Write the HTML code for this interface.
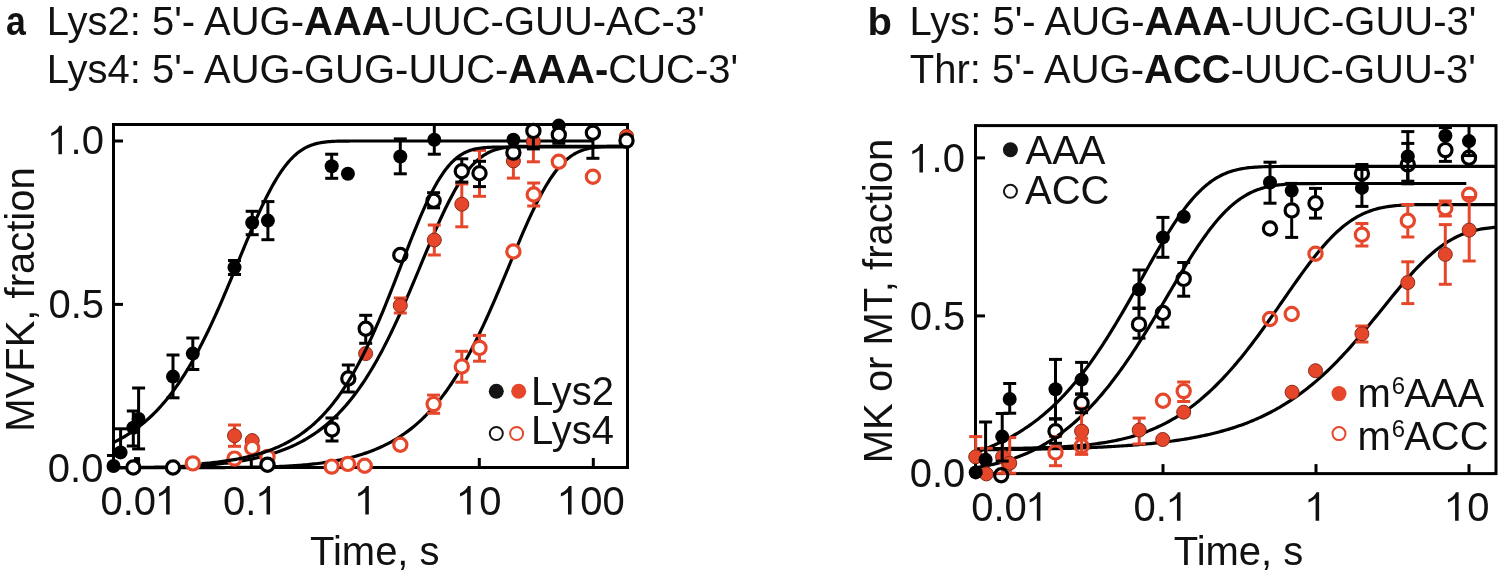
<!DOCTYPE html>
<html><head><meta charset="utf-8"><style>
html,body{margin:0;padding:0;background:#fff;}
body{width:1500px;height:578px;overflow:hidden;}
svg{display:block;font-family:"Liberation Sans",sans-serif;}
svg{will-change:transform;}
</style></head><body>
<svg width="1500" height="578" viewBox="0 0 1500 578">
<rect width="1500" height="578" fill="#fff"/>
<text x="5.9" y="34.6" font-size="40" text-anchor="start" font-weight="bold" fill="#111" transform="translate(6.2,0) scale(0.89,1) translate(-6.2,0) translate(5.9,34.6) scale(1,1.0) translate(-5.9,-34.6)" >a</text>
<text x="46.8" y="34.6" font-size="40" text-anchor="start" font-weight="normal" fill="#111" transform="translate(46.8,34.6) scale(1,1.035) translate(-46.8,-34.6)" >Lys2: 5'- AUG-<tspan font-weight='bold'>AAA</tspan>-UUC-GUU-AC-3'</text>
<text x="46.8" y="83.3" font-size="40" text-anchor="start" font-weight="normal" fill="#111" transform="translate(46.8,83.3) scale(1,1.035) translate(-46.8,-83.3)" >Lys4: 5'- AUG-GUG-UUC-<tspan font-weight='bold'>AAA-</tspan>CUC-3'</text>
<text x="867.5" y="34.6" font-size="40" text-anchor="start" font-weight="bold" fill="#111" transform="translate(867.5,34.6) scale(1,0.96) translate(-867.5,-34.6)" >b</text>
<text x="909.5" y="34.6" font-size="40" text-anchor="start" font-weight="normal" fill="#111" transform="translate(909.5,34.6) scale(1,1.035) translate(-909.5,-34.6)" >Lys: 5'- AUG-<tspan font-weight='bold'>AAA</tspan>-UUC-GUU-3'</text>
<text x="909.8" y="83.3" font-size="40" text-anchor="start" font-weight="normal" fill="#111" transform="translate(909.8,83.3) scale(1,1.035) translate(-909.8,-83.3)" >Thr: 5'- AUG-<tspan font-weight='bold'>ACC</tspan>-UUC-GUU-3'</text>
<rect x="113.5" y="124.5" width="514.0" height="343.0" fill="none" stroke="#000" stroke-width="3"/>
<line x1="113.50" y1="141.00" x2="123.00" y2="141.00" stroke="#000" stroke-width="3"/>
<line x1="113.50" y1="304.40" x2="123.00" y2="304.40" stroke="#000" stroke-width="3"/>
<line x1="137.30" y1="467.50" x2="137.30" y2="458.00" stroke="#000" stroke-width="3"/>
<line x1="251.30" y1="467.50" x2="251.30" y2="458.00" stroke="#000" stroke-width="3"/>
<line x1="365.30" y1="467.50" x2="365.30" y2="458.00" stroke="#000" stroke-width="3"/>
<line x1="479.30" y1="467.50" x2="479.30" y2="458.00" stroke="#000" stroke-width="3"/>
<line x1="593.30" y1="467.50" x2="593.30" y2="458.00" stroke="#000" stroke-width="3"/>
<path d="M113.50,442.52 L115.35,441.60 L117.21,440.65 L119.06,439.66 L120.91,438.64 L122.76,437.59 L124.62,436.50 L126.47,435.37 L128.32,434.20 L130.17,432.99 L132.03,431.75 L133.88,430.46 L135.73,429.12 L137.58,427.75 L139.44,426.32 L141.29,424.86 L143.14,423.34 L144.99,421.77 L146.85,420.15 L148.70,418.49 L150.55,416.76 L152.40,414.99 L154.26,413.15 L156.11,411.27 L157.96,409.32 L159.81,407.31 L161.67,405.25 L163.52,403.12 L165.37,400.92 L167.22,398.67 L169.08,396.35 L170.93,393.96 L172.78,391.50 L174.63,388.98 L176.49,386.39 L178.34,383.73 L180.19,380.99 L182.04,378.19 L183.90,375.31 L185.75,372.36 L187.60,369.33 L189.45,366.24 L191.31,363.06 L193.16,359.82 L195.01,356.50 L196.86,353.11 L198.72,349.65 L200.57,346.11 L202.42,342.50 L204.27,338.82 L206.13,335.07 L207.98,331.26 L209.83,327.38 L211.68,323.43 L213.54,319.42 L215.39,315.36 L217.24,311.23 L219.09,307.05 L220.95,302.82 L222.80,298.55 L224.65,294.23 L226.50,289.87 L228.36,285.47 L230.21,281.05 L232.06,276.59 L233.91,272.12 L235.77,267.64 L237.62,263.14 L239.47,258.65 L241.32,254.15 L243.18,249.67 L245.03,245.21 L246.88,240.76 L248.73,236.35 L250.59,231.98 L252.44,227.65 L254.29,223.37 L256.14,219.16 L258.00,215.01 L259.85,210.94 L261.70,206.95 L263.55,203.04 L265.41,199.24 L267.26,195.53 L269.11,191.93 L270.96,188.45 L272.82,185.08 L274.67,181.84 L276.52,178.73 L278.37,175.75 L280.23,172.90 L282.08,170.19 L283.93,167.63 L285.78,165.20 L287.64,162.91 L289.49,160.77 L291.34,158.76 L293.19,156.90 L295.05,155.17 L296.90,153.57 L298.75,152.10 L300.60,150.76 L302.46,149.54 L304.31,148.43 L306.16,147.43 L308.01,146.54 L309.87,145.74 L311.72,145.03 L313.57,144.41 L315.42,143.87 L317.28,143.39 L319.13,142.98 L320.98,142.63 L322.83,142.33 L324.69,142.08 L326.54,141.87 L328.39,141.69 L330.24,141.55 L332.10,141.43 L333.95,141.33 L335.80,141.26 L337.65,141.20 L339.51,141.15 L341.36,141.11 L343.21,141.08 L345.06,141.06 L346.92,141.04 L348.77,141.03 L350.62,141.02 L352.47,141.01 L354.33,141.01 L356.18,141.01 L358.03,141.00 L359.88,141.00 L361.74,141.00 L363.59,141.00 L365.44,141.00 L367.29,141.00 L369.15,141.00 L371.00,141.00 L372.85,141.00 L374.70,141.00 L376.56,141.00 L378.41,141.00 L380.26,141.00 L382.11,141.00 L383.97,141.00 L385.82,141.00 L387.67,141.00 L389.52,141.00 L391.38,141.00 L393.23,141.00 L395.08,141.00 L396.93,141.00 L398.79,141.00 L400.64,141.00 L402.49,141.00 L404.34,141.00 L406.20,141.00 L408.05,141.00 L409.90,141.00 L411.75,141.00 L413.61,141.00 L415.46,141.00 L417.31,141.00 L419.16,141.00 L421.02,141.00 L422.87,141.00 L424.72,141.00 L426.57,141.00 L428.43,141.00 L430.28,141.00 L432.13,141.00 L433.98,141.00 L435.84,141.00 L437.69,141.00 L439.54,141.00 L441.39,141.00 L443.25,141.00 L445.10,141.00 L446.95,141.00 L448.80,141.00 L450.66,141.00 L452.51,141.00 L454.36,141.00 L456.21,141.00 L458.07,141.00 L459.92,141.00 L461.77,141.00 L463.62,141.00 L465.48,141.00 L467.33,141.00 L469.18,141.00 L471.03,141.00 L472.89,141.00 L474.74,141.00 L476.59,141.00 L478.44,141.00 L480.30,141.00 L482.15,141.00 L484.00,141.00 L485.85,141.00 L487.71,141.00 L489.56,141.00 L491.41,141.00 L493.26,141.00 L495.12,141.00 L496.97,141.00 L498.82,141.00 L500.67,141.00 L502.53,141.00 L504.38,141.00 L506.23,141.00 L508.08,141.00 L509.94,141.00 L511.79,141.00 L513.64,141.00 L515.49,141.00 L517.35,141.00 L519.20,141.00 L521.05,141.00 L522.90,141.00 L524.76,141.00 L526.61,141.00 L528.46,141.00 L530.31,141.00 L532.17,141.00 L534.02,141.00 L535.87,141.00 L537.72,141.00 L539.58,141.00 L541.43,141.00 L543.28,141.00 L545.13,141.00 L546.99,141.00 L548.84,141.00 L550.69,141.00 L552.54,141.00 L554.40,141.00 L556.25,141.00 L558.10,141.00 L559.95,141.00 L561.81,141.00 L563.66,141.00 L565.51,141.00 L567.36,141.00 L569.22,141.00 L571.07,141.00 L572.92,141.00 L574.77,141.00 L576.63,141.00 L578.48,141.00 L580.33,141.00 L582.18,141.00 L584.04,141.00 L585.89,141.00 L587.74,141.00 L589.59,141.00 L591.45,141.00 L593.30,141.00" fill="none" stroke="#000" stroke-width="3.2" stroke-linejoin="round"/>
<path d="M113.50,467.59 L115.48,467.58 L117.47,467.57 L119.45,467.56 L121.44,467.55 L123.42,467.54 L125.41,467.53 L127.39,467.52 L129.38,467.50 L131.36,467.49 L133.35,467.47 L135.33,467.45 L137.31,467.44 L139.30,467.42 L141.28,467.39 L143.27,467.37 L145.25,467.35 L147.24,467.32 L149.22,467.29 L151.21,467.26 L153.19,467.23 L155.18,467.20 L157.16,467.16 L159.14,467.12 L161.13,467.08 L163.11,467.04 L165.10,466.99 L167.08,466.94 L169.07,466.89 L171.05,466.83 L173.04,466.77 L175.02,466.71 L177.01,466.64 L178.99,466.57 L180.97,466.49 L182.96,466.41 L184.94,466.33 L186.93,466.24 L188.91,466.14 L190.90,466.04 L192.88,465.94 L194.87,465.82 L196.85,465.71 L198.84,465.58 L200.82,465.45 L202.81,465.31 L204.79,465.17 L206.77,465.02 L208.76,464.86 L210.74,464.69 L212.73,464.52 L214.71,464.33 L216.70,464.14 L218.68,463.94 L220.67,463.73 L222.65,463.51 L224.64,463.28 L226.62,463.04 L228.60,462.79 L230.59,462.53 L232.57,462.25 L234.56,461.97 L236.54,461.67 L238.53,461.36 L240.51,461.04 L242.50,460.70 L244.48,460.35 L246.47,459.99 L248.45,459.61 L250.43,459.22 L252.42,458.81 L254.40,458.38 L256.39,457.94 L258.37,457.48 L260.36,457.00 L262.34,456.51 L264.33,455.99 L266.31,455.45 L268.30,454.89 L270.28,454.31 L272.26,453.71 L274.25,453.08 L276.23,452.43 L278.22,451.76 L280.20,451.06 L282.19,450.33 L284.17,449.57 L286.16,448.78 L288.14,447.97 L290.13,447.12 L292.11,446.24 L294.09,445.33 L296.08,444.39 L298.06,443.40 L300.05,442.39 L302.03,441.33 L304.02,440.23 L306.00,439.10 L307.99,437.92 L309.97,436.70 L311.96,435.43 L313.94,434.12 L315.92,432.76 L317.91,431.36 L319.89,429.90 L321.88,428.39 L323.86,426.83 L325.85,425.21 L327.83,423.54 L329.82,421.80 L331.80,420.01 L333.79,418.16 L335.77,416.25 L337.75,414.27 L339.74,412.23 L341.72,410.12 L343.71,407.94 L345.69,405.69 L347.68,403.37 L349.66,400.97 L351.65,398.51 L353.63,395.96 L355.62,393.34 L357.60,390.64 L359.58,387.87 L361.57,385.01 L363.55,382.07 L365.54,379.05 L367.52,375.95 L369.51,372.77 L371.49,369.50 L373.48,366.14 L375.46,362.71 L377.45,359.19 L379.43,355.59 L381.42,351.90 L383.40,348.13 L385.38,344.29 L387.37,340.36 L389.35,336.35 L391.34,332.27 L393.32,328.12 L395.31,323.89 L397.29,319.60 L399.28,315.24 L401.26,310.81 L403.25,306.33 L405.23,301.80 L407.21,297.22 L409.20,292.59 L411.18,287.92 L413.17,283.22 L415.15,278.50 L417.14,273.75 L419.12,268.99 L421.11,264.23 L423.09,259.46 L425.08,254.71 L427.06,249.97 L429.04,245.26 L431.03,240.58 L433.01,235.95 L435.00,231.37 L436.98,226.85 L438.97,222.40 L440.95,218.03 L442.94,213.74 L444.92,209.55 L446.91,205.47 L448.89,201.50 L450.87,197.65 L452.86,193.92 L454.84,190.33 L456.83,186.88 L458.81,183.58 L460.80,180.42 L462.78,177.42 L464.77,174.58 L466.75,171.89 L468.74,169.36 L470.72,167.00 L472.70,164.79 L474.69,162.75 L476.67,160.85 L478.66,159.12 L480.64,157.52 L482.63,156.08 L484.61,154.77 L486.60,153.59 L488.58,152.53 L490.57,151.59 L492.55,150.77 L494.53,150.04 L496.52,149.41 L498.50,148.86 L500.49,148.39 L502.47,147.99 L504.46,147.65 L506.44,147.37 L508.43,147.13 L510.41,146.94 L512.40,146.78 L514.38,146.65 L516.36,146.55 L518.35,146.47 L520.33,146.41 L522.32,146.36 L524.30,146.33 L526.29,146.30 L528.27,146.28 L530.26,146.26 L532.24,146.25 L534.23,146.24 L536.21,146.24 L538.19,146.23 L540.18,146.23 L542.16,146.23 L544.15,146.23 L546.13,146.23 L548.12,146.23 L550.10,146.23 L552.09,146.23 L554.07,146.23 L556.06,146.23 L558.04,146.23 L560.03,146.23 L562.01,146.23 L563.99,146.23 L565.98,146.23 L567.96,146.23 L569.95,146.23 L571.93,146.23 L573.92,146.23 L575.90,146.23 L577.89,146.23 L579.87,146.23 L581.86,146.23 L583.84,146.23 L585.82,146.23 L587.81,146.23 L589.79,146.23 L591.78,146.23 L593.76,146.23 L595.75,146.23 L597.73,146.23 L599.72,146.23 L601.70,146.23 L603.69,146.23 L605.67,146.23 L607.65,146.23 L609.64,146.23 L611.62,146.23 L613.61,146.23 L615.59,146.23 L617.58,146.23 L619.56,146.23 L621.55,146.23 L623.53,146.23 L625.52,146.23 L627.50,146.23" fill="none" stroke="#000" stroke-width="3.2" stroke-linejoin="round"/>
<path d="M113.50,467.70 L115.48,467.70 L117.47,467.70 L119.45,467.70 L121.44,467.70 L123.42,467.70 L125.41,467.70 L127.39,467.70 L129.38,467.70 L131.36,467.70 L133.35,467.70 L135.33,467.69 L137.31,467.69 L139.30,467.69 L141.28,467.69 L143.27,467.69 L145.25,467.69 L147.24,467.69 L149.22,467.69 L151.21,467.69 L153.19,467.69 L155.18,467.69 L157.16,467.69 L159.14,467.69 L161.13,467.69 L163.11,467.68 L165.10,467.68 L167.08,467.68 L169.07,467.68 L171.05,467.68 L173.04,467.68 L175.02,467.68 L177.01,467.67 L178.99,467.67 L180.97,467.67 L182.96,467.67 L184.94,467.66 L186.93,467.66 L188.91,467.66 L190.90,467.65 L192.88,467.65 L194.87,467.65 L196.85,467.64 L198.84,467.64 L200.82,467.63 L202.81,467.63 L204.79,467.62 L206.77,467.61 L208.76,467.61 L210.74,467.60 L212.73,467.59 L214.71,467.58 L216.70,467.57 L218.68,467.56 L220.67,467.55 L222.65,467.54 L224.64,467.53 L226.62,467.52 L228.60,467.50 L230.59,467.49 L232.57,467.47 L234.56,467.45 L236.54,467.43 L238.53,467.41 L240.51,467.39 L242.50,467.37 L244.48,467.34 L246.47,467.31 L248.45,467.28 L250.43,467.25 L252.42,467.22 L254.40,467.18 L256.39,467.15 L258.37,467.10 L260.36,467.06 L262.34,467.01 L264.33,466.96 L266.31,466.91 L268.30,466.85 L270.28,466.79 L272.26,466.73 L274.25,466.66 L276.23,466.58 L278.22,466.51 L280.20,466.42 L282.19,466.33 L284.17,466.24 L286.16,466.14 L288.14,466.03 L290.13,465.92 L292.11,465.80 L294.09,465.67 L296.08,465.54 L298.06,465.40 L300.05,465.25 L302.03,465.09 L304.02,464.93 L306.00,464.75 L307.99,464.56 L309.97,464.37 L311.96,464.16 L313.94,463.95 L315.92,463.72 L317.91,463.48 L319.89,463.23 L321.88,462.97 L323.86,462.69 L325.85,462.41 L327.83,462.10 L329.82,461.79 L331.80,461.46 L333.79,461.11 L335.77,460.75 L337.75,460.38 L339.74,459.98 L341.72,459.57 L343.71,459.14 L345.69,458.70 L347.68,458.23 L349.66,457.75 L351.65,457.25 L353.63,456.72 L355.62,456.18 L357.60,455.61 L359.58,455.02 L361.57,454.41 L363.55,453.77 L365.54,453.11 L367.52,452.42 L369.51,451.71 L371.49,450.96 L373.48,450.19 L375.46,449.39 L377.45,448.56 L379.43,447.70 L381.42,446.80 L383.40,445.87 L385.38,444.91 L387.37,443.91 L389.35,442.87 L391.34,441.79 L393.32,440.68 L395.31,439.52 L397.29,438.32 L399.28,437.07 L401.26,435.78 L403.25,434.45 L405.23,433.06 L407.21,431.63 L409.20,430.14 L411.18,428.61 L413.17,427.02 L415.15,425.37 L417.14,423.66 L419.12,421.90 L421.11,420.08 L423.09,418.19 L425.08,416.25 L427.06,414.23 L429.04,412.15 L431.03,410.01 L433.01,407.79 L435.00,405.50 L436.98,403.14 L438.97,400.71 L440.95,398.20 L442.94,395.62 L444.92,392.95 L446.91,390.21 L448.89,387.39 L450.87,384.49 L452.86,381.51 L454.84,378.44 L456.83,375.29 L458.81,372.06 L460.80,368.75 L462.78,365.35 L464.77,361.86 L466.75,358.30 L468.74,354.65 L470.72,350.91 L472.70,347.10 L474.69,343.20 L476.67,339.23 L478.66,335.18 L480.64,331.05 L482.63,326.85 L484.61,322.58 L486.60,318.24 L488.58,313.84 L490.57,309.38 L492.55,304.86 L494.53,300.29 L496.52,295.67 L498.50,291.01 L500.49,286.32 L502.47,281.59 L504.46,276.84 L506.44,272.07 L508.43,267.29 L510.41,262.51 L512.40,257.74 L514.38,252.97 L516.36,248.23 L518.35,243.52 L520.33,238.85 L522.32,234.22 L524.30,229.65 L526.29,225.14 L528.27,220.71 L530.26,216.36 L532.24,212.11 L534.23,207.95 L536.21,203.90 L538.19,199.97 L540.18,196.16 L542.16,192.48 L544.15,188.94 L546.13,185.54 L548.12,182.29 L550.10,179.19 L552.09,176.25 L554.07,173.47 L556.06,170.84 L558.04,168.38 L560.03,166.08 L562.01,163.93 L563.99,161.95 L565.98,160.12 L567.96,158.44 L569.95,156.91 L571.93,155.52 L573.92,154.26 L575.90,153.13 L577.89,152.13 L579.87,151.23 L581.86,150.45 L583.84,149.76 L585.82,149.17 L587.81,148.65 L589.79,148.21 L591.78,147.84 L593.76,147.52 L595.75,147.26 L597.73,147.05 L599.72,146.87 L601.70,146.72 L603.69,146.61 L605.67,146.52 L607.65,146.44 L609.64,146.39 L611.62,146.35 L613.61,146.31 L615.59,146.29 L617.58,146.27 L619.56,146.26 L621.55,146.25 L623.53,146.24 L625.52,146.24 L627.50,146.23" fill="none" stroke="#000" stroke-width="3.2" stroke-linejoin="round"/>
<line x1="113.50" y1="455.50" x2="113.50" y2="466.00" stroke="#000" stroke-width="3.0"/>
<line x1="107.00" y1="455.50" x2="120.00" y2="455.50" stroke="#000" stroke-width="3.0"/>
<circle cx="113.5" cy="466" r="7.0" fill="#000"/>
<line x1="120.60" y1="428.80" x2="120.60" y2="452.40" stroke="#000" stroke-width="3.0"/>
<line x1="114.10" y1="428.80" x2="127.10" y2="428.80" stroke="#000" stroke-width="3.0"/>
<circle cx="120.6" cy="452.4" r="7.0" fill="#000"/>
<line x1="133.30" y1="411.00" x2="133.30" y2="427.70" stroke="#000" stroke-width="3.0"/>
<line x1="126.80" y1="411.00" x2="139.80" y2="411.00" stroke="#000" stroke-width="3.0"/>
<line x1="133.30" y1="427.70" x2="133.30" y2="446.00" stroke="#000" stroke-width="3.0"/>
<line x1="126.80" y1="446.00" x2="139.80" y2="446.00" stroke="#000" stroke-width="3.0"/>
<circle cx="133.3" cy="427.7" r="7.0" fill="#000"/>
<line x1="138.60" y1="388.00" x2="138.60" y2="418.90" stroke="#000" stroke-width="3.0"/>
<line x1="132.10" y1="388.00" x2="145.10" y2="388.00" stroke="#000" stroke-width="3.0"/>
<line x1="138.60" y1="418.90" x2="138.60" y2="448.90" stroke="#000" stroke-width="3.0"/>
<line x1="132.10" y1="448.90" x2="145.10" y2="448.90" stroke="#000" stroke-width="3.0"/>
<circle cx="138.6" cy="418.9" r="7.0" fill="#000"/>
<line x1="173.00" y1="355.00" x2="173.00" y2="376.60" stroke="#000" stroke-width="3.0"/>
<line x1="166.50" y1="355.00" x2="179.50" y2="355.00" stroke="#000" stroke-width="3.0"/>
<line x1="173.00" y1="376.60" x2="173.00" y2="397.80" stroke="#000" stroke-width="3.0"/>
<line x1="166.50" y1="397.80" x2="179.50" y2="397.80" stroke="#000" stroke-width="3.0"/>
<circle cx="173" cy="376.6" r="7.0" fill="#000"/>
<line x1="192.80" y1="338.00" x2="192.80" y2="353.60" stroke="#000" stroke-width="3.0"/>
<line x1="186.30" y1="338.00" x2="199.30" y2="338.00" stroke="#000" stroke-width="3.0"/>
<line x1="192.80" y1="353.60" x2="192.80" y2="369.50" stroke="#000" stroke-width="3.0"/>
<line x1="186.30" y1="369.50" x2="199.30" y2="369.50" stroke="#000" stroke-width="3.0"/>
<circle cx="192.8" cy="353.6" r="7.0" fill="#000"/>
<line x1="234.50" y1="260.50" x2="234.50" y2="267.40" stroke="#000" stroke-width="3.0"/>
<line x1="228.00" y1="260.50" x2="241.00" y2="260.50" stroke="#000" stroke-width="3.0"/>
<line x1="234.50" y1="267.40" x2="234.50" y2="274.50" stroke="#000" stroke-width="3.0"/>
<line x1="228.00" y1="274.50" x2="241.00" y2="274.50" stroke="#000" stroke-width="3.0"/>
<circle cx="234.5" cy="267.4" r="7.0" fill="#000"/>
<line x1="252.20" y1="211.30" x2="252.20" y2="222.70" stroke="#000" stroke-width="3.0"/>
<line x1="245.70" y1="211.30" x2="258.70" y2="211.30" stroke="#000" stroke-width="3.0"/>
<line x1="252.20" y1="222.70" x2="252.20" y2="234.70" stroke="#000" stroke-width="3.0"/>
<line x1="245.70" y1="234.70" x2="258.70" y2="234.70" stroke="#000" stroke-width="3.0"/>
<circle cx="252.2" cy="222.7" r="7.0" fill="#000"/>
<line x1="267.90" y1="201.60" x2="267.90" y2="220.60" stroke="#000" stroke-width="3.0"/>
<line x1="261.40" y1="201.60" x2="274.40" y2="201.60" stroke="#000" stroke-width="3.0"/>
<line x1="267.90" y1="220.60" x2="267.90" y2="239.70" stroke="#000" stroke-width="3.0"/>
<line x1="261.40" y1="239.70" x2="274.40" y2="239.70" stroke="#000" stroke-width="3.0"/>
<circle cx="267.9" cy="220.6" r="7.0" fill="#000"/>
<line x1="331.70" y1="154.20" x2="331.70" y2="166.20" stroke="#000" stroke-width="3.0"/>
<line x1="325.20" y1="154.20" x2="338.20" y2="154.20" stroke="#000" stroke-width="3.0"/>
<line x1="331.70" y1="166.20" x2="331.70" y2="178.30" stroke="#000" stroke-width="3.0"/>
<line x1="325.20" y1="178.30" x2="338.20" y2="178.30" stroke="#000" stroke-width="3.0"/>
<circle cx="331.7" cy="166.2" r="7.0" fill="#000"/>
<circle cx="347.9" cy="173.8" r="7.0" fill="#000"/>
<line x1="400.30" y1="138.90" x2="400.30" y2="156.50" stroke="#000" stroke-width="3.0"/>
<line x1="393.80" y1="138.90" x2="406.80" y2="138.90" stroke="#000" stroke-width="3.0"/>
<line x1="400.30" y1="156.50" x2="400.30" y2="173.80" stroke="#000" stroke-width="3.0"/>
<line x1="393.80" y1="173.80" x2="406.80" y2="173.80" stroke="#000" stroke-width="3.0"/>
<circle cx="400.3" cy="156.5" r="7.0" fill="#000"/>
<line x1="434.30" y1="124.00" x2="434.30" y2="139.70" stroke="#000" stroke-width="3.0"/>
<line x1="434.30" y1="139.70" x2="434.30" y2="154.20" stroke="#000" stroke-width="3.0"/>
<line x1="427.80" y1="154.20" x2="440.80" y2="154.20" stroke="#000" stroke-width="3.0"/>
<circle cx="434.3" cy="139.7" r="7.0" fill="#000"/>
<circle cx="513.4" cy="139.7" r="7.0" fill="#000"/>
<circle cx="558.8" cy="125.6" r="7.0" fill="#000"/>
<line x1="234.50" y1="425.00" x2="234.50" y2="435.70" stroke="#e6472b" stroke-width="3.0"/>
<line x1="228.00" y1="425.00" x2="241.00" y2="425.00" stroke="#e6472b" stroke-width="3.0"/>
<line x1="234.50" y1="435.70" x2="234.50" y2="446.30" stroke="#e6472b" stroke-width="3.0"/>
<line x1="228.00" y1="446.30" x2="241.00" y2="446.30" stroke="#e6472b" stroke-width="3.0"/>
<circle cx="234.5" cy="435.7" r="7.0" fill="#e6472b" stroke="#8a2a17" stroke-width="1.0"/>
<circle cx="252.2" cy="440.6" r="7.0" fill="#e6472b" stroke="#8a2a17" stroke-width="1.0"/>
<circle cx="365.6" cy="353.6" r="7.0" fill="#e6472b" stroke="#8a2a17" stroke-width="1.0"/>
<line x1="400.30" y1="298.00" x2="400.30" y2="305.40" stroke="#e6472b" stroke-width="3.0"/>
<line x1="393.80" y1="298.00" x2="406.80" y2="298.00" stroke="#e6472b" stroke-width="3.0"/>
<line x1="400.30" y1="305.40" x2="400.30" y2="313.00" stroke="#e6472b" stroke-width="3.0"/>
<line x1="393.80" y1="313.00" x2="406.80" y2="313.00" stroke="#e6472b" stroke-width="3.0"/>
<circle cx="400.3" cy="305.4" r="7.0" fill="#e6472b" stroke="#8a2a17" stroke-width="1.0"/>
<line x1="434.30" y1="225.00" x2="434.30" y2="240.00" stroke="#e6472b" stroke-width="3.0"/>
<line x1="427.80" y1="225.00" x2="440.80" y2="225.00" stroke="#e6472b" stroke-width="3.0"/>
<line x1="434.30" y1="240.00" x2="434.30" y2="255.00" stroke="#e6472b" stroke-width="3.0"/>
<line x1="427.80" y1="255.00" x2="440.80" y2="255.00" stroke="#e6472b" stroke-width="3.0"/>
<circle cx="434.3" cy="240" r="7.0" fill="#e6472b" stroke="#8a2a17" stroke-width="1.0"/>
<line x1="461.80" y1="183.90" x2="461.80" y2="204.20" stroke="#e6472b" stroke-width="3.0"/>
<line x1="455.30" y1="183.90" x2="468.30" y2="183.90" stroke="#e6472b" stroke-width="3.0"/>
<line x1="461.80" y1="204.20" x2="461.80" y2="226.80" stroke="#e6472b" stroke-width="3.0"/>
<line x1="455.30" y1="226.80" x2="468.30" y2="226.80" stroke="#e6472b" stroke-width="3.0"/>
<circle cx="461.8" cy="204.2" r="7.0" fill="#e6472b" stroke="#8a2a17" stroke-width="1.0"/>
<line x1="479.50" y1="150.30" x2="479.50" y2="173.30" stroke="#e6472b" stroke-width="3.0"/>
<line x1="473.00" y1="150.30" x2="486.00" y2="150.30" stroke="#e6472b" stroke-width="3.0"/>
<line x1="479.50" y1="173.30" x2="479.50" y2="196.30" stroke="#e6472b" stroke-width="3.0"/>
<line x1="473.00" y1="196.30" x2="486.00" y2="196.30" stroke="#e6472b" stroke-width="3.0"/>
<circle cx="479.5" cy="173.3" r="7.0" fill="#e6472b" stroke="#8a2a17" stroke-width="1.0"/>
<line x1="513.40" y1="150.00" x2="513.40" y2="160.90" stroke="#e6472b" stroke-width="3.0"/>
<line x1="506.90" y1="150.00" x2="519.90" y2="150.00" stroke="#e6472b" stroke-width="3.0"/>
<line x1="513.40" y1="160.90" x2="513.40" y2="178.10" stroke="#e6472b" stroke-width="3.0"/>
<line x1="506.90" y1="178.10" x2="519.90" y2="178.10" stroke="#e6472b" stroke-width="3.0"/>
<circle cx="513.4" cy="160.9" r="7.0" fill="#e6472b" stroke="#8a2a17" stroke-width="1.0"/>
<line x1="533.40" y1="130.00" x2="533.40" y2="141.50" stroke="#e6472b" stroke-width="3.0"/>
<line x1="526.90" y1="130.00" x2="539.90" y2="130.00" stroke="#e6472b" stroke-width="3.0"/>
<line x1="533.40" y1="141.50" x2="533.40" y2="161.80" stroke="#e6472b" stroke-width="3.0"/>
<line x1="526.90" y1="161.80" x2="539.90" y2="161.80" stroke="#e6472b" stroke-width="3.0"/>
<circle cx="533.4" cy="141.5" r="7.0" fill="#e6472b" stroke="#8a2a17" stroke-width="1.0"/>
<circle cx="626.5" cy="136.2" r="7.0" fill="#e6472b" stroke="#8a2a17" stroke-width="1.0"/>
<circle cx="192.8" cy="463.4" r="6.6" fill="#fff" stroke="#e6472b" stroke-width="3.2"/>
<circle cx="234.5" cy="458.6" r="6.6" fill="#fff" stroke="#e6472b" stroke-width="3.2"/>
<circle cx="252.2" cy="448" r="6.6" fill="#fff" stroke="#e6472b" stroke-width="3.2"/>
<circle cx="267.5" cy="456.9" r="6.6" fill="#fff" stroke="#e6472b" stroke-width="3.2"/>
<circle cx="331.7" cy="466.6" r="6.6" fill="#fff" stroke="#e6472b" stroke-width="3.2"/>
<circle cx="347.9" cy="463.9" r="6.6" fill="#fff" stroke="#e6472b" stroke-width="3.2"/>
<circle cx="364.7" cy="465.7" r="6.6" fill="#fff" stroke="#e6472b" stroke-width="3.2"/>
<circle cx="400.3" cy="444.8" r="6.6" fill="#fff" stroke="#e6472b" stroke-width="3.2"/>
<line x1="433.60" y1="395.10" x2="433.60" y2="404.10" stroke="#e6472b" stroke-width="3.0"/>
<line x1="427.10" y1="395.10" x2="440.10" y2="395.10" stroke="#e6472b" stroke-width="3.0"/>
<line x1="433.60" y1="404.10" x2="433.60" y2="413.30" stroke="#e6472b" stroke-width="3.0"/>
<line x1="427.10" y1="413.30" x2="440.10" y2="413.30" stroke="#e6472b" stroke-width="3.0"/>
<circle cx="433.6" cy="404.1" r="6.6" fill="#fff" stroke="#e6472b" stroke-width="3.2"/>
<line x1="461.80" y1="351.30" x2="461.80" y2="366.50" stroke="#e6472b" stroke-width="3.0"/>
<line x1="455.30" y1="351.30" x2="468.30" y2="351.30" stroke="#e6472b" stroke-width="3.0"/>
<line x1="461.80" y1="366.50" x2="461.80" y2="382.20" stroke="#e6472b" stroke-width="3.0"/>
<line x1="455.30" y1="382.20" x2="468.30" y2="382.20" stroke="#e6472b" stroke-width="3.0"/>
<circle cx="461.8" cy="366.5" r="6.6" fill="#fff" stroke="#e6472b" stroke-width="3.2"/>
<line x1="479.50" y1="335.40" x2="479.50" y2="347.90" stroke="#e6472b" stroke-width="3.0"/>
<line x1="473.00" y1="335.40" x2="486.00" y2="335.40" stroke="#e6472b" stroke-width="3.0"/>
<line x1="479.50" y1="347.90" x2="479.50" y2="361.20" stroke="#e6472b" stroke-width="3.0"/>
<line x1="473.00" y1="361.20" x2="486.00" y2="361.20" stroke="#e6472b" stroke-width="3.0"/>
<circle cx="479.5" cy="347.9" r="6.6" fill="#fff" stroke="#e6472b" stroke-width="3.2"/>
<circle cx="513.4" cy="251.5" r="6.6" fill="#fff" stroke="#e6472b" stroke-width="3.2"/>
<line x1="533.70" y1="183.00" x2="533.70" y2="194.50" stroke="#e6472b" stroke-width="3.0"/>
<line x1="527.20" y1="183.00" x2="540.20" y2="183.00" stroke="#e6472b" stroke-width="3.0"/>
<line x1="533.70" y1="194.50" x2="533.70" y2="206.00" stroke="#e6472b" stroke-width="3.0"/>
<line x1="527.20" y1="206.00" x2="540.20" y2="206.00" stroke="#e6472b" stroke-width="3.0"/>
<circle cx="533.7" cy="194.5" r="6.6" fill="#fff" stroke="#e6472b" stroke-width="3.2"/>
<circle cx="558.8" cy="161.8" r="6.6" fill="#fff" stroke="#e6472b" stroke-width="3.2"/>
<circle cx="592.9" cy="176.8" r="6.6" fill="#fff" stroke="#e6472b" stroke-width="3.2"/>
<line x1="138.60" y1="458.60" x2="138.60" y2="466.00" stroke="#000" stroke-width="3.0"/>
<line x1="134.00" y1="458.60" x2="140.00" y2="458.60" stroke="#000" stroke-width="3.0"/>
<circle cx="133.3" cy="467.5" r="6.6" fill="#fff" stroke="#000" stroke-width="3.2"/>
<circle cx="173" cy="467.5" r="6.6" fill="#fff" stroke="#000" stroke-width="3.2"/>
<circle cx="267.5" cy="464.8" r="6.6" fill="#fff" stroke="#000" stroke-width="3.2"/>
<line x1="332.00" y1="418.00" x2="332.00" y2="429.50" stroke="#000" stroke-width="3.0"/>
<line x1="325.50" y1="418.00" x2="338.50" y2="418.00" stroke="#000" stroke-width="3.0"/>
<line x1="332.00" y1="429.50" x2="332.00" y2="441.00" stroke="#000" stroke-width="3.0"/>
<line x1="325.50" y1="441.00" x2="338.50" y2="441.00" stroke="#000" stroke-width="3.0"/>
<circle cx="332" cy="429.5" r="6.6" fill="#fff" stroke="#000" stroke-width="3.2"/>
<line x1="348.30" y1="365.00" x2="348.30" y2="378.50" stroke="#000" stroke-width="3.0"/>
<line x1="341.80" y1="365.00" x2="354.80" y2="365.00" stroke="#000" stroke-width="3.0"/>
<line x1="348.30" y1="378.50" x2="348.30" y2="392.00" stroke="#000" stroke-width="3.0"/>
<line x1="341.80" y1="392.00" x2="354.80" y2="392.00" stroke="#000" stroke-width="3.0"/>
<circle cx="348.3" cy="378.5" r="6.6" fill="#fff" stroke="#000" stroke-width="3.2"/>
<line x1="365.70" y1="315.30" x2="365.70" y2="328.80" stroke="#000" stroke-width="3.0"/>
<line x1="359.20" y1="315.30" x2="372.20" y2="315.30" stroke="#000" stroke-width="3.0"/>
<line x1="365.70" y1="328.80" x2="365.70" y2="343.30" stroke="#000" stroke-width="3.0"/>
<line x1="359.20" y1="343.30" x2="372.20" y2="343.30" stroke="#000" stroke-width="3.0"/>
<circle cx="365.7" cy="328.8" r="6.6" fill="#fff" stroke="#000" stroke-width="3.2"/>
<circle cx="400.3" cy="255" r="6.6" fill="#fff" stroke="#000" stroke-width="3.2"/>
<line x1="433.60" y1="192.70" x2="433.60" y2="200.70" stroke="#000" stroke-width="3.0"/>
<line x1="427.10" y1="192.70" x2="440.10" y2="192.70" stroke="#000" stroke-width="3.0"/>
<line x1="433.60" y1="200.70" x2="433.60" y2="207.80" stroke="#000" stroke-width="3.0"/>
<line x1="427.10" y1="207.80" x2="440.10" y2="207.80" stroke="#000" stroke-width="3.0"/>
<circle cx="433.6" cy="200.7" r="6.6" fill="#fff" stroke="#000" stroke-width="3.2"/>
<line x1="461.80" y1="158.80" x2="461.80" y2="171.20" stroke="#000" stroke-width="3.0"/>
<line x1="455.30" y1="158.80" x2="468.30" y2="158.80" stroke="#000" stroke-width="3.0"/>
<line x1="461.80" y1="171.20" x2="461.80" y2="182.10" stroke="#000" stroke-width="3.0"/>
<line x1="455.30" y1="182.10" x2="468.30" y2="182.10" stroke="#000" stroke-width="3.0"/>
<circle cx="461.8" cy="171.2" r="6.6" fill="#fff" stroke="#000" stroke-width="3.2"/>
<line x1="479.50" y1="161.30" x2="479.50" y2="173.30" stroke="#000" stroke-width="3.0"/>
<line x1="473.00" y1="161.30" x2="486.00" y2="161.30" stroke="#000" stroke-width="3.0"/>
<line x1="479.50" y1="173.30" x2="479.50" y2="186.60" stroke="#000" stroke-width="3.0"/>
<line x1="473.00" y1="186.60" x2="486.00" y2="186.60" stroke="#000" stroke-width="3.0"/>
<circle cx="479.5" cy="173.3" r="6.6" fill="#fff" stroke="#000" stroke-width="3.2"/>
<circle cx="513.4" cy="152.6" r="6.6" fill="#fff" stroke="#000" stroke-width="3.2"/>
<line x1="533.40" y1="130.90" x2="533.40" y2="148.90" stroke="#000" stroke-width="3.0"/>
<line x1="526.90" y1="148.90" x2="539.90" y2="148.90" stroke="#000" stroke-width="3.0"/>
<circle cx="533.4" cy="130.9" r="6.6" fill="#fff" stroke="#000" stroke-width="3.2"/>
<line x1="558.80" y1="134.80" x2="558.80" y2="143.30" stroke="#000" stroke-width="3.0"/>
<line x1="552.30" y1="143.30" x2="565.30" y2="143.30" stroke="#000" stroke-width="3.0"/>
<circle cx="558.8" cy="134.8" r="6.6" fill="#fff" stroke="#000" stroke-width="3.2"/>
<line x1="592.90" y1="132.70" x2="592.90" y2="158.30" stroke="#000" stroke-width="3.0"/>
<line x1="586.40" y1="158.30" x2="599.40" y2="158.30" stroke="#000" stroke-width="3.0"/>
<circle cx="592.9" cy="132.7" r="6.6" fill="#fff" stroke="#000" stroke-width="3.2"/>
<circle cx="626.5" cy="140.6" r="6.6" fill="#fff" stroke="#000" stroke-width="3.2"/>
<path d="M201.40,463.74 L203.05,463.60 L204.69,463.45 L206.34,463.29 L207.98,463.13 L209.63,462.97 L211.27,462.79 L212.92,462.61 L214.56,462.43 L216.21,462.23 L217.85,462.04 L219.50,461.83 L221.14,461.62 L222.79,461.39 L224.43,461.16 L226.08,460.93 L227.72,460.68 L229.37,460.42 L231.01,460.16 L232.66,459.88 L234.30,459.60 L235.95,459.31 L237.60,459.00 L239.24,458.69 L240.89,458.36 L242.53,458.02 L244.18,457.67 L245.82,457.31 L247.47,456.93 L249.11,456.54 L250.76,456.14 L252.40,455.72 L254.05,455.29 L255.69,454.84 L257.34,454.38 L258.98,453.90 L260.63,453.40 L262.27,452.89 L263.92,452.36 L265.56,451.81 L267.21,451.24 L268.85,450.65 L270.50,450.04 L272.14,449.41 L273.79,448.75 L275.43,448.08 L277.08,447.38 L278.72,446.66 L280.37,445.91 L282.01,445.14 L283.66,444.34 L285.30,443.51 L286.95,442.66 L288.60,441.77 L290.24,440.86 L291.89,439.92 L293.53,438.94 L295.18,437.93 L296.82,436.89 L298.47,435.82 L300.11,434.71 L301.76,433.56 L303.40,432.37 L305.05,431.15 L306.69,429.89 L308.34,428.59 L309.98,427.24 L311.63,425.85 L313.27,424.42 L314.92,422.95 L316.56,421.43 L318.21,419.86 L319.85,418.24 L321.50,416.57 L323.14,414.85 L324.79,413.08 L326.43,411.26 L328.08,409.39 L329.72,407.46 L331.37,405.47 L333.01,403.43 L334.66,401.32 L336.31,399.16 L337.95,396.94 L339.60,394.66 L341.24,392.31 L342.89,389.91 L344.53,387.44 L346.18,384.90 L347.82,382.30 L349.47,379.63 L351.11,376.90 L352.76,374.10 L354.40,371.24 L356.05,368.30 L357.69,365.30 L359.34,362.24 L360.98,359.10 L362.63,355.90 L364.27,352.63 L365.92,349.29 L367.56,345.89 L369.21,342.42 L370.85,338.89 L372.50,335.30 L374.14,331.65 L375.79,327.93 L377.43,324.16 L379.08,320.34 L380.72,316.46 L382.37,312.52 L384.02,308.54 L385.66,304.52 L387.31,300.45 L388.95,296.34 L390.60,292.20 L392.24,288.03 L393.89,283.83 L395.53,279.61 L397.18,275.37 L398.82,271.11 L400.47,266.85 L402.11,262.59 L403.76,258.33 L405.40,254.08 L407.05,249.84 L408.69,245.63 L410.34,241.44 L411.98,237.28 L413.63,233.17 L415.27,229.10 L416.92,225.08 L418.56,221.13 L420.21,217.24 L421.85,213.42 L423.50,209.68 L425.14,206.03 L426.79,202.46 L428.43,199.00 L430.08,195.63 L431.72,192.37 L433.37,189.22 L435.02,186.18 L436.66,183.27 L438.31,180.47 L439.95,177.80 L441.60,175.26 L443.24,172.84 L444.89,170.55 L446.53,168.40 L448.18,166.37 L449.82,164.47 L451.47,162.70 L453.11,161.05 L454.76,159.52 L456.40,158.11 L458.05,156.82 L459.69,155.64 L461.34,154.56 L462.98,153.59 L464.63,152.71 L466.27,151.93 L467.92,151.23 L469.56,150.61 L471.21,150.06 L472.85,149.58 L474.50,149.16 L476.14,148.80 L477.79,148.49 L479.43,148.22 L481.08,148.00 L482.73,147.81 L484.37,147.65 L486.02,147.52 L487.66,147.41 L489.31,147.33 L490.95,147.25 L492.60,147.20 L494.24,147.15 L495.89,147.12 L497.53,147.09 L499.18,147.07 L500.82,147.05 L502.47,147.04 L504.11,147.03 L505.76,147.03 L507.40,147.02 L509.05,147.02 L510.69,147.02 L512.34,147.01 L513.98,147.01 L515.63,147.01 L517.27,147.01 L518.92,147.01 L520.56,147.01 L522.21,147.01 L523.85,147.01 L525.50,147.01 L527.14,147.01 L528.79,147.01 L530.44,147.01 L532.08,147.01 L533.73,147.01 L535.37,147.01 L537.02,147.01 L538.66,147.01 L540.31,147.01 L541.95,147.01 L543.60,147.01 L545.24,147.01 L546.89,147.01 L548.53,147.01 L550.18,147.01 L551.82,147.01 L553.47,147.01 L555.11,147.01 L556.76,147.01 L558.40,147.01 L560.05,147.01 L561.69,147.01 L563.34,147.01 L564.98,147.01 L566.63,147.01 L568.27,147.01 L569.92,147.01 L571.56,147.01 L573.21,147.01 L574.85,147.01 L576.50,147.01 L578.14,147.01 L579.79,147.01 L581.44,147.01 L583.08,147.01 L584.73,147.01 L586.37,147.01 L588.02,147.01 L589.66,147.01 L591.31,147.01 L592.95,147.01 L594.60,147.01 L596.24,147.01 L597.89,147.01 L599.53,147.01 L601.18,147.01 L602.82,147.01 L604.47,147.01 L606.11,147.01 L607.76,147.01 L609.40,147.01 L611.05,147.01 L612.69,147.01 L614.34,147.01 L615.98,147.01 L617.63,147.01 L619.27,147.01 L620.92,147.01 L622.56,147.01 L624.21,147.01 L625.85,147.01 L627.50,147.01" fill="none" stroke="#000" stroke-width="3.2" stroke-linejoin="round"/>
<text x="48.36" y="154.2" font-size="40" fill="#111" transform="translate(0,154.2) scale(1,1.035) translate(0,-154.2)"><tspan fill-opacity='0'>1</tspan>.0</text>
<path d="M515,0 L696,0 L696,1409 L560,1409 Q470,1200 150,1053 L150,900 Q370,985 515,1110 Z" fill="#111" transform="translate(48.36,154.2) scale(0.019531,-0.020215)"/>
<text x="48.47" y="317.8" font-size="40" fill="#111" transform="translate(0,317.8) scale(1,1.035) translate(0,-317.8)">0.5</text>
<text x="47.86" y="481.6" font-size="40" fill="#111" transform="translate(0,481.6) scale(1,1.035) translate(0,-481.6)">0.0</text>
<text x="100.47" y="514.6" font-size="40" fill="#111" transform="translate(0,514.6) scale(1,1.035) translate(0,-514.6)">0.0<tspan fill-opacity='0'>1</tspan></text>
<path d="M515,0 L696,0 L696,1409 L560,1409 Q470,1200 150,1053 L150,900 Q370,985 515,1110 Z" fill="#111" transform="translate(156.07,514.6) scale(0.019531,-0.020215)"/>
<text x="223.09" y="514.6" font-size="40" fill="#111" transform="translate(0,514.6) scale(1,1.035) translate(0,-514.6)">0.<tspan fill-opacity='0'>1</tspan></text>
<path d="M515,0 L696,0 L696,1409 L560,1409 Q470,1200 150,1053 L150,900 Q370,985 515,1110 Z" fill="#111" transform="translate(256.45,514.6) scale(0.019531,-0.020215)"/>
<text x="355.24" y="514.6" font-size="40" fill="#111" transform="translate(0,514.6) scale(1,1.035) translate(0,-514.6)"><tspan fill-opacity='0'>1</tspan></text>
<path d="M515,0 L696,0 L696,1409 L560,1409 Q470,1200 150,1053 L150,900 Q370,985 515,1110 Z" fill="#111" transform="translate(355.24,514.6) scale(0.019531,-0.020215)"/>
<text x="457.07" y="514.6" font-size="40" fill="#111" transform="translate(0,514.6) scale(1,1.035) translate(0,-514.6)"><tspan fill-opacity='0'>1</tspan>0</text>
<path d="M515,0 L696,0 L696,1409 L560,1409 Q470,1200 150,1053 L150,900 Q370,985 515,1110 Z" fill="#111" transform="translate(457.07,514.6) scale(0.019531,-0.020215)"/>
<text x="557.95" y="514.6" font-size="40" fill="#111" transform="translate(0,514.6) scale(1,1.035) translate(0,-514.6)"><tspan fill-opacity='0'>1</tspan>00</text>
<path d="M515,0 L696,0 L696,1409 L560,1409 Q470,1200 150,1053 L150,900 Q370,985 515,1110 Z" fill="#111" transform="translate(557.95,514.6) scale(0.019531,-0.020215)"/>
<text x="374.8" y="564.8" font-size="40" text-anchor="middle" font-weight="normal" fill="#111" transform="translate(374.8,564.8) scale(1,1.035) translate(-374.8,-564.8)" >Time, s</text>
<text x="34.3" y="299.5" font-size="40" text-anchor="middle" font-weight="normal" fill="#111" transform="rotate(-90 34.3 299.5) translate(34.3,299.5) scale(1,1.035) translate(-34.3,-299.5)" >MVFK, fraction</text>
<circle cx="496.3" cy="391.2" r="7.5" fill="#151515"/>
<circle cx="518.7" cy="391.2" r="7.5" fill="#e6472b"/>
<circle cx="496.3" cy="433.5" r="6.5" fill="none" stroke="#151515" stroke-width="2"/>
<circle cx="516.6" cy="433.5" r="6.5" fill="none" stroke="#e6472b" stroke-width="2"/>
<text x="531" y="405.5" font-size="40" text-anchor="start" font-weight="normal" fill="#111" transform="translate(531,405.5) scale(1,1.035) translate(-531,-405.5)" >Lys2</text>
<text x="531" y="444.5" font-size="40" text-anchor="start" font-weight="normal" fill="#111" transform="translate(531,444.5) scale(1,1.035) translate(-531,-444.5)" >Lys4</text>
<rect x="975.5" y="125.6" width="520.5" height="348.0" fill="none" stroke="#000" stroke-width="3"/>
<line x1="975.50" y1="157.90" x2="985.00" y2="157.90" stroke="#000" stroke-width="3"/>
<line x1="975.50" y1="315.90" x2="985.00" y2="315.90" stroke="#000" stroke-width="3"/>
<line x1="1010.00" y1="473.60" x2="1010.00" y2="464.10" stroke="#000" stroke-width="3"/>
<line x1="1163.00" y1="473.60" x2="1163.00" y2="464.10" stroke="#000" stroke-width="3"/>
<line x1="1316.00" y1="473.60" x2="1316.00" y2="464.10" stroke="#000" stroke-width="3"/>
<line x1="1469.00" y1="473.60" x2="1469.00" y2="464.10" stroke="#000" stroke-width="3"/>
<path d="M976.00,452.04 L978.01,451.36 L980.02,450.67 L982.02,449.95 L984.03,449.21 L986.04,448.45 L988.05,447.67 L990.05,446.86 L992.06,446.03 L994.07,445.17 L996.08,444.30 L998.08,443.39 L1000.09,442.46 L1002.10,441.50 L1004.11,440.52 L1006.12,439.51 L1008.12,438.47 L1010.13,437.40 L1012.14,436.30 L1014.15,435.17 L1016.15,434.00 L1018.16,432.81 L1020.17,431.58 L1022.18,430.32 L1024.19,429.02 L1026.19,427.69 L1028.20,426.33 L1030.21,424.92 L1032.22,423.48 L1034.22,422.01 L1036.23,420.49 L1038.24,418.93 L1040.25,417.34 L1042.25,415.70 L1044.26,414.02 L1046.27,412.30 L1048.28,410.54 L1050.29,408.73 L1052.29,406.88 L1054.30,404.98 L1056.31,403.04 L1058.32,401.05 L1060.32,399.02 L1062.33,396.94 L1064.34,394.81 L1066.35,392.64 L1068.36,390.41 L1070.36,388.14 L1072.37,385.82 L1074.38,383.45 L1076.39,381.02 L1078.39,378.55 L1080.40,376.03 L1082.41,373.46 L1084.42,370.84 L1086.42,368.17 L1088.43,365.46 L1090.44,362.69 L1092.45,359.87 L1094.46,357.01 L1096.46,354.09 L1098.47,351.14 L1100.48,348.13 L1102.49,345.08 L1104.49,341.98 L1106.50,338.84 L1108.51,335.66 L1110.52,332.44 L1112.53,329.18 L1114.53,325.88 L1116.54,322.54 L1118.55,319.17 L1120.56,315.77 L1122.56,312.34 L1124.57,308.88 L1126.58,305.39 L1128.59,301.88 L1130.59,298.35 L1132.60,294.81 L1134.61,291.25 L1136.62,287.68 L1138.63,284.10 L1140.63,280.52 L1142.64,276.93 L1144.65,273.35 L1146.66,269.77 L1148.66,266.21 L1150.67,262.66 L1152.68,259.13 L1154.69,255.62 L1156.69,252.13 L1158.70,248.68 L1160.71,245.26 L1162.72,241.88 L1164.73,238.54 L1166.73,235.25 L1168.74,232.02 L1170.75,228.83 L1172.76,225.71 L1174.76,222.65 L1176.77,219.66 L1178.78,216.73 L1180.79,213.89 L1182.80,211.11 L1184.80,208.42 L1186.81,205.82 L1188.82,203.30 L1190.83,200.86 L1192.83,198.52 L1194.84,196.27 L1196.85,194.11 L1198.86,192.04 L1200.86,190.07 L1202.87,188.20 L1204.88,186.42 L1206.89,184.74 L1208.90,183.15 L1210.90,181.65 L1212.91,180.25 L1214.92,178.93 L1216.93,177.71 L1218.93,176.57 L1220.94,175.52 L1222.95,174.54 L1224.96,173.65 L1226.97,172.83 L1228.97,172.08 L1230.98,171.39 L1232.99,170.78 L1235.00,170.22 L1237.00,169.72 L1239.01,169.27 L1241.02,168.88 L1243.03,168.52 L1245.03,168.21 L1247.04,167.94 L1249.05,167.70 L1251.06,167.50 L1253.07,167.32 L1255.07,167.17 L1257.08,167.04 L1259.09,166.93 L1261.10,166.83 L1263.10,166.76 L1265.11,166.69 L1267.12,166.64 L1269.13,166.60 L1271.14,166.56 L1273.14,166.53 L1275.15,166.51 L1277.16,166.49 L1279.17,166.48 L1281.17,166.47 L1283.18,166.46 L1285.19,166.45 L1287.20,166.45 L1289.20,166.44 L1291.21,166.44 L1293.22,166.44 L1295.23,166.44 L1297.24,166.43 L1299.24,166.43 L1301.25,166.43 L1303.26,166.43 L1305.27,166.43 L1307.27,166.43 L1309.28,166.43 L1311.29,166.43 L1313.30,166.43 L1315.31,166.43 L1317.31,166.43 L1319.32,166.43 L1321.33,166.43 L1323.34,166.43 L1325.34,166.43 L1327.35,166.43 L1329.36,166.43 L1331.37,166.43 L1333.37,166.43 L1335.38,166.43 L1337.39,166.43 L1339.40,166.43 L1341.41,166.43 L1343.41,166.43 L1345.42,166.43 L1347.43,166.43 L1349.44,166.43 L1351.44,166.43 L1353.45,166.43 L1355.46,166.43 L1357.47,166.43 L1359.47,166.43 L1361.48,166.43 L1363.49,166.43 L1365.50,166.43 L1367.51,166.43 L1369.51,166.43 L1371.52,166.43 L1373.53,166.43 L1375.54,166.43 L1377.54,166.43 L1379.55,166.43 L1381.56,166.43 L1383.57,166.43 L1385.58,166.43 L1387.58,166.43 L1389.59,166.43 L1391.60,166.43 L1393.61,166.43 L1395.61,166.43 L1397.62,166.43 L1399.63,166.43 L1401.64,166.43 L1403.64,166.43 L1405.65,166.43 L1407.66,166.43 L1409.67,166.43 L1411.68,166.43 L1413.68,166.43 L1415.69,166.43 L1417.70,166.43 L1419.71,166.43 L1421.71,166.43 L1423.72,166.43 L1425.73,166.43 L1427.74,166.43 L1429.75,166.43 L1431.75,166.43 L1433.76,166.43 L1435.77,166.43 L1437.78,166.43 L1439.78,166.43 L1441.79,166.43 L1443.80,166.43 L1445.81,166.43 L1447.81,166.43 L1449.82,166.43 L1451.83,166.43 L1453.84,166.43 L1455.85,166.43 L1457.85,166.43 L1459.86,166.43 L1461.87,166.43 L1463.88,166.43 L1465.88,166.43 L1467.89,166.43 L1469.90,166.43 L1471.91,166.43 L1473.92,166.43 L1475.92,166.43 L1477.93,166.43 L1479.94,166.43 L1481.95,166.43 L1483.95,166.43 L1485.96,166.43 L1487.97,166.43 L1489.98,166.43 L1491.98,166.43 L1493.99,166.43 L1496.00,166.43" fill="none" stroke="#000" stroke-width="3.2" stroke-linejoin="round"/>
<path d="M976.00,467.64 L977.89,467.33 L979.79,467.01 L981.68,466.68 L983.57,466.33 L985.47,465.97 L987.36,465.59 L989.25,465.20 L991.14,464.79 L993.04,464.37 L994.93,463.92 L996.82,463.46 L998.72,462.98 L1000.61,462.48 L1002.50,461.97 L1004.40,461.43 L1006.29,460.87 L1008.18,460.29 L1010.07,459.69 L1011.97,459.06 L1013.86,458.42 L1015.75,457.75 L1017.65,457.05 L1019.54,456.33 L1021.43,455.59 L1023.33,454.82 L1025.22,454.02 L1027.11,453.20 L1029.00,452.35 L1030.90,451.47 L1032.79,450.56 L1034.68,449.63 L1036.58,448.66 L1038.47,447.67 L1040.36,446.64 L1042.26,445.59 L1044.15,444.50 L1046.04,443.38 L1047.93,442.23 L1049.83,441.05 L1051.72,439.83 L1053.61,438.58 L1055.51,437.29 L1057.40,435.97 L1059.29,434.62 L1061.19,433.23 L1063.08,431.81 L1064.97,430.34 L1066.86,428.85 L1068.76,427.31 L1070.65,425.74 L1072.54,424.13 L1074.44,422.49 L1076.33,420.80 L1078.22,419.08 L1080.12,417.32 L1082.01,415.52 L1083.90,413.68 L1085.79,411.80 L1087.69,409.88 L1089.58,407.93 L1091.47,405.93 L1093.37,403.89 L1095.26,401.81 L1097.15,399.69 L1099.05,397.54 L1100.94,395.34 L1102.83,393.10 L1104.72,390.82 L1106.62,388.50 L1108.51,386.14 L1110.40,383.74 L1112.30,381.30 L1114.19,378.82 L1116.08,376.30 L1117.98,373.74 L1119.87,371.14 L1121.76,368.51 L1123.65,365.83 L1125.55,363.12 L1127.44,360.38 L1129.33,357.60 L1131.23,354.78 L1133.12,351.93 L1135.01,349.05 L1136.91,346.13 L1138.80,343.19 L1140.69,340.21 L1142.58,337.21 L1144.48,334.18 L1146.37,331.12 L1148.26,328.04 L1150.16,324.94 L1152.05,321.82 L1153.94,318.68 L1155.84,315.53 L1157.73,312.36 L1159.62,309.18 L1161.51,305.98 L1163.41,302.78 L1165.30,299.58 L1167.19,296.37 L1169.09,293.16 L1170.98,289.96 L1172.87,286.76 L1174.77,283.56 L1176.66,280.38 L1178.55,277.21 L1180.44,274.06 L1182.34,270.93 L1184.23,267.82 L1186.12,264.74 L1188.02,261.68 L1189.91,258.66 L1191.80,255.67 L1193.70,252.72 L1195.59,249.81 L1197.48,246.94 L1199.37,244.12 L1201.27,241.35 L1203.16,238.63 L1205.05,235.96 L1206.95,233.35 L1208.84,230.81 L1210.73,228.32 L1212.63,225.90 L1214.52,223.55 L1216.41,221.26 L1218.30,219.04 L1220.20,216.90 L1222.09,214.83 L1223.98,212.83 L1225.88,210.91 L1227.77,209.06 L1229.66,207.29 L1231.56,205.60 L1233.45,203.98 L1235.34,202.44 L1237.23,200.98 L1239.13,199.59 L1241.02,198.28 L1242.91,197.04 L1244.81,195.87 L1246.70,194.77 L1248.59,193.75 L1250.49,192.79 L1252.38,191.90 L1254.27,191.07 L1256.16,190.30 L1258.06,189.59 L1259.95,188.94 L1261.84,188.34 L1263.74,187.79 L1265.63,187.30 L1267.52,186.84 L1269.42,186.43 L1271.31,186.06 L1273.20,185.73 L1275.09,185.44 L1276.99,185.17 L1278.88,184.94 L1280.77,184.73 L1282.67,184.55 L1284.56,184.39 L1286.45,184.25 L1288.35,184.13 L1290.24,184.03 L1292.13,183.94 L1294.02,183.86 L1295.92,183.80 L1297.81,183.74 L1299.70,183.70 L1301.60,183.66 L1303.49,183.63 L1305.38,183.60 L1307.28,183.58 L1309.17,183.56 L1311.06,183.55 L1312.95,183.54 L1314.85,183.53 L1316.74,183.52 L1318.63,183.51 L1320.53,183.51 L1322.42,183.51 L1324.31,183.50 L1326.21,183.50 L1328.10,183.50 L1329.99,183.50 L1331.88,183.50 L1333.78,183.50 L1335.67,183.50 L1337.56,183.50 L1339.46,183.50 L1341.35,183.50 L1343.24,183.50 L1345.14,183.50 L1347.03,183.50 L1348.92,183.50 L1350.81,183.50 L1352.71,183.50 L1354.60,183.50 L1356.49,183.50 L1358.39,183.50 L1360.28,183.50 L1362.17,183.50 L1364.07,183.50 L1365.96,183.50 L1367.85,183.50 L1369.74,183.50 L1371.64,183.50 L1373.53,183.50 L1375.42,183.50 L1377.32,183.50 L1379.21,183.50 L1381.10,183.50 L1383.00,183.50 L1384.89,183.50 L1386.78,183.50 L1388.67,183.50 L1390.57,183.50 L1392.46,183.50 L1394.35,183.50 L1396.25,183.50 L1398.14,183.50 L1400.03,183.50 L1401.93,183.50 L1403.82,183.50 L1405.71,183.50 L1407.60,183.50 L1409.50,183.50 L1411.39,183.50 L1413.28,183.50 L1415.18,183.50 L1417.07,183.50 L1418.96,183.50 L1420.86,183.50 L1422.75,183.50 L1424.64,183.50 L1426.53,183.50 L1428.43,183.50 L1430.32,183.50 L1432.21,183.50 L1434.11,183.50 L1436.00,183.50 L1437.89,183.50 L1439.79,183.50 L1441.68,183.50 L1443.57,183.50 L1445.46,183.50 L1447.36,183.50 L1449.25,183.50 L1451.14,183.50 L1453.04,183.50 L1454.93,183.50 L1456.82,183.50 L1458.72,183.50 L1460.61,183.50 L1462.50,183.50 L1464.39,183.50 L1466.29,183.50" fill="none" stroke="#000" stroke-width="3.2" stroke-linejoin="round"/>
<path d="M976.00,448.76 L978.01,448.74 L980.02,448.73 L982.02,448.72 L984.03,448.71 L986.04,448.69 L988.05,448.68 L990.05,448.66 L992.06,448.65 L994.07,448.63 L996.08,448.61 L998.08,448.59 L1000.09,448.57 L1002.10,448.55 L1004.11,448.53 L1006.12,448.50 L1008.12,448.48 L1010.13,448.45 L1012.14,448.42 L1014.15,448.39 L1016.15,448.36 L1018.16,448.32 L1020.17,448.29 L1022.18,448.25 L1024.19,448.21 L1026.19,448.17 L1028.20,448.12 L1030.21,448.07 L1032.22,448.02 L1034.22,447.97 L1036.23,447.91 L1038.24,447.86 L1040.25,447.79 L1042.25,447.73 L1044.26,447.66 L1046.27,447.58 L1048.28,447.51 L1050.29,447.42 L1052.29,447.34 L1054.30,447.25 L1056.31,447.15 L1058.32,447.05 L1060.32,446.94 L1062.33,446.83 L1064.34,446.71 L1066.35,446.59 L1068.36,446.46 L1070.36,446.32 L1072.37,446.17 L1074.38,446.02 L1076.39,445.86 L1078.39,445.69 L1080.40,445.51 L1082.41,445.33 L1084.42,445.13 L1086.42,444.93 L1088.43,444.71 L1090.44,444.48 L1092.45,444.25 L1094.46,444.00 L1096.46,443.73 L1098.47,443.46 L1100.48,443.17 L1102.49,442.87 L1104.49,442.56 L1106.50,442.23 L1108.51,441.88 L1110.52,441.52 L1112.53,441.15 L1114.53,440.75 L1116.54,440.34 L1118.55,439.91 L1120.56,439.47 L1122.56,439.00 L1124.57,438.51 L1126.58,438.01 L1128.59,437.48 L1130.59,436.93 L1132.60,436.35 L1134.61,435.76 L1136.62,435.14 L1138.63,434.49 L1140.63,433.82 L1142.64,433.13 L1144.65,432.41 L1146.66,431.66 L1148.66,430.88 L1150.67,430.08 L1152.68,429.25 L1154.69,428.39 L1156.69,427.49 L1158.70,426.57 L1160.71,425.62 L1162.72,424.63 L1164.73,423.61 L1166.73,422.56 L1168.74,421.48 L1170.75,420.36 L1172.76,419.21 L1174.76,418.03 L1176.77,416.80 L1178.78,415.55 L1180.79,414.25 L1182.80,412.92 L1184.80,411.56 L1186.81,410.16 L1188.82,408.72 L1190.83,407.24 L1192.83,405.72 L1194.84,404.17 L1196.85,402.57 L1198.86,400.94 L1200.86,399.27 L1202.87,397.56 L1204.88,395.82 L1206.89,394.03 L1208.90,392.20 L1210.90,390.33 L1212.91,388.43 L1214.92,386.48 L1216.93,384.50 L1218.93,382.47 L1220.94,380.41 L1222.95,378.30 L1224.96,376.16 L1226.97,373.98 L1228.97,371.76 L1230.98,369.50 L1232.99,367.21 L1235.00,364.88 L1237.00,362.51 L1239.01,360.10 L1241.02,357.66 L1243.03,355.18 L1245.03,352.67 L1247.04,350.13 L1249.05,347.55 L1251.06,344.94 L1253.07,342.30 L1255.07,339.63 L1257.08,336.94 L1259.09,334.22 L1261.10,331.47 L1263.10,328.70 L1265.11,325.91 L1267.12,323.10 L1269.13,320.27 L1271.14,317.42 L1273.14,314.56 L1275.15,311.69 L1277.16,308.80 L1279.17,305.92 L1281.17,303.02 L1283.18,300.13 L1285.19,297.23 L1287.20,294.34 L1289.20,291.45 L1291.21,288.57 L1293.22,285.70 L1295.23,282.85 L1297.24,280.01 L1299.24,277.20 L1301.25,274.41 L1303.26,271.64 L1305.27,268.91 L1307.27,266.20 L1309.28,263.54 L1311.29,260.91 L1313.30,258.32 L1315.31,255.78 L1317.31,253.29 L1319.32,250.84 L1321.33,248.45 L1323.34,246.12 L1325.34,243.84 L1327.35,241.63 L1329.36,239.47 L1331.37,237.38 L1333.37,235.36 L1335.38,233.41 L1337.39,231.52 L1339.40,229.71 L1341.41,227.97 L1343.41,226.30 L1345.42,224.71 L1347.43,223.18 L1349.44,221.73 L1351.44,220.36 L1353.45,219.06 L1355.46,217.83 L1357.47,216.67 L1359.47,215.58 L1361.48,214.56 L1363.49,213.60 L1365.50,212.72 L1367.51,211.89 L1369.51,211.13 L1371.52,210.43 L1373.53,209.78 L1375.54,209.19 L1377.54,208.65 L1379.55,208.16 L1381.56,207.71 L1383.57,207.31 L1385.58,206.95 L1387.58,206.63 L1389.59,206.34 L1391.60,206.09 L1393.61,205.86 L1395.61,205.66 L1397.62,205.49 L1399.63,205.34 L1401.64,205.21 L1403.64,205.10 L1405.65,205.00 L1407.66,204.92 L1409.67,204.85 L1411.68,204.79 L1413.68,204.75 L1415.69,204.71 L1417.70,204.67 L1419.71,204.65 L1421.71,204.62 L1423.72,204.61 L1425.73,204.59 L1427.74,204.58 L1429.75,204.57 L1431.75,204.56 L1433.76,204.56 L1435.77,204.55 L1437.78,204.55 L1439.78,204.55 L1441.79,204.55 L1443.80,204.54 L1445.81,204.54 L1447.81,204.54 L1449.82,204.54 L1451.83,204.54 L1453.84,204.54 L1455.85,204.54 L1457.85,204.54 L1459.86,204.54 L1461.87,204.54 L1463.88,204.54 L1465.88,204.54 L1467.89,204.54 L1469.90,204.54 L1471.91,204.54 L1473.92,204.54 L1475.92,204.54 L1477.93,204.54 L1479.94,204.54 L1481.95,204.54 L1483.95,204.54 L1485.96,204.54 L1487.97,204.54 L1489.98,204.54 L1491.98,204.54 L1493.99,204.54 L1496.00,204.54" fill="none" stroke="#000" stroke-width="3.2" stroke-linejoin="round"/>
<path d="M976.00,449.83 L978.01,449.82 L980.02,449.80 L982.02,449.79 L984.03,449.77 L986.04,449.75 L988.05,449.73 L990.05,449.72 L992.06,449.70 L994.07,449.68 L996.08,449.66 L998.08,449.64 L1000.09,449.62 L1002.10,449.59 L1004.11,449.57 L1006.12,449.55 L1008.12,449.53 L1010.13,449.50 L1012.14,449.48 L1014.15,449.45 L1016.15,449.42 L1018.16,449.39 L1020.17,449.37 L1022.18,449.34 L1024.19,449.31 L1026.19,449.28 L1028.20,449.24 L1030.21,449.21 L1032.22,449.18 L1034.22,449.14 L1036.23,449.10 L1038.24,449.07 L1040.25,449.03 L1042.25,448.99 L1044.26,448.95 L1046.27,448.91 L1048.28,448.86 L1050.29,448.82 L1052.29,448.77 L1054.30,448.72 L1056.31,448.67 L1058.32,448.62 L1060.32,448.57 L1062.33,448.52 L1064.34,448.46 L1066.35,448.41 L1068.36,448.35 L1070.36,448.29 L1072.37,448.23 L1074.38,448.16 L1076.39,448.09 L1078.39,448.03 L1080.40,447.96 L1082.41,447.88 L1084.42,447.81 L1086.42,447.73 L1088.43,447.65 L1090.44,447.57 L1092.45,447.49 L1094.46,447.40 L1096.46,447.31 L1098.47,447.22 L1100.48,447.13 L1102.49,447.03 L1104.49,446.93 L1106.50,446.83 L1108.51,446.72 L1110.52,446.61 L1112.53,446.50 L1114.53,446.38 L1116.54,446.26 L1118.55,446.14 L1120.56,446.01 L1122.56,445.88 L1124.57,445.74 L1126.58,445.60 L1128.59,445.46 L1130.59,445.31 L1132.60,445.16 L1134.61,445.00 L1136.62,444.84 L1138.63,444.68 L1140.63,444.51 L1142.64,444.33 L1144.65,444.15 L1146.66,443.96 L1148.66,443.77 L1150.67,443.57 L1152.68,443.37 L1154.69,443.16 L1156.69,442.94 L1158.70,442.72 L1160.71,442.49 L1162.72,442.25 L1164.73,442.01 L1166.73,441.76 L1168.74,441.50 L1170.75,441.24 L1172.76,440.96 L1174.76,440.68 L1176.77,440.39 L1178.78,440.10 L1180.79,439.79 L1182.80,439.47 L1184.80,439.15 L1186.81,438.82 L1188.82,438.47 L1190.83,438.12 L1192.83,437.75 L1194.84,437.38 L1196.85,437.00 L1198.86,436.60 L1200.86,436.19 L1202.87,435.77 L1204.88,435.34 L1206.89,434.90 L1208.90,434.44 L1210.90,433.97 L1212.91,433.49 L1214.92,432.99 L1216.93,432.48 L1218.93,431.96 L1220.94,431.42 L1222.95,430.87 L1224.96,430.30 L1226.97,429.71 L1228.97,429.11 L1230.98,428.49 L1232.99,427.86 L1235.00,427.21 L1237.00,426.54 L1239.01,425.85 L1241.02,425.14 L1243.03,424.41 L1245.03,423.67 L1247.04,422.90 L1249.05,422.12 L1251.06,421.31 L1253.07,420.48 L1255.07,419.63 L1257.08,418.76 L1259.09,417.87 L1261.10,416.95 L1263.10,416.01 L1265.11,415.04 L1267.12,414.05 L1269.13,413.04 L1271.14,412.00 L1273.14,410.93 L1275.15,409.84 L1277.16,408.72 L1279.17,407.58 L1281.17,406.40 L1283.18,405.20 L1285.19,403.97 L1287.20,402.71 L1289.20,401.42 L1291.21,400.11 L1293.22,398.76 L1295.23,397.38 L1297.24,395.97 L1299.24,394.53 L1301.25,393.06 L1303.26,391.55 L1305.27,390.02 L1307.27,388.45 L1309.28,386.85 L1311.29,385.22 L1313.30,383.56 L1315.31,381.86 L1317.31,380.13 L1319.32,378.36 L1321.33,376.57 L1323.34,374.74 L1325.34,372.88 L1327.35,370.98 L1329.36,369.05 L1331.37,367.09 L1333.37,365.10 L1335.38,363.08 L1337.39,361.02 L1339.40,358.94 L1341.41,356.82 L1343.41,354.68 L1345.42,352.51 L1347.43,350.30 L1349.44,348.07 L1351.44,345.82 L1353.45,343.54 L1355.46,341.23 L1357.47,338.90 L1359.47,336.55 L1361.48,334.18 L1363.49,331.79 L1365.50,329.38 L1367.51,326.96 L1369.51,324.52 L1371.52,322.07 L1373.53,319.60 L1375.54,317.13 L1377.54,314.65 L1379.55,312.17 L1381.56,309.68 L1383.57,307.19 L1385.58,304.70 L1387.58,302.22 L1389.59,299.74 L1391.60,297.27 L1393.61,294.81 L1395.61,292.37 L1397.62,289.94 L1399.63,287.53 L1401.64,285.15 L1403.64,282.79 L1405.65,280.45 L1407.66,278.14 L1409.67,275.87 L1411.68,273.63 L1413.68,271.43 L1415.69,269.27 L1417.70,267.15 L1419.71,265.07 L1421.71,263.05 L1423.72,261.07 L1425.73,259.14 L1427.74,257.26 L1429.75,255.44 L1431.75,253.68 L1433.76,251.97 L1435.77,250.33 L1437.78,248.74 L1439.78,247.22 L1441.79,245.75 L1443.80,244.35 L1445.81,243.02 L1447.81,241.74 L1449.82,240.53 L1451.83,239.38 L1453.84,238.30 L1455.85,237.28 L1457.85,236.31 L1459.86,235.41 L1461.87,234.56 L1463.88,233.78 L1465.88,233.04 L1467.89,232.36 L1469.90,231.74 L1471.91,231.16 L1473.92,230.63 L1475.92,230.15 L1477.93,229.70 L1479.94,229.30 L1481.95,228.94 L1483.95,228.62 L1485.96,228.33 L1487.97,228.07 L1489.98,227.83 L1491.98,227.63 L1493.99,227.45 L1496.00,227.29" fill="none" stroke="#000" stroke-width="3.2" stroke-linejoin="round"/>
<line x1="975.70" y1="436.60" x2="975.70" y2="456.80" stroke="#e6472b" stroke-width="3.0"/>
<line x1="969.20" y1="436.60" x2="982.20" y2="436.60" stroke="#e6472b" stroke-width="3.0"/>
<circle cx="975.7" cy="456.8" r="7.0" fill="#e6472b" stroke="#8a2a17" stroke-width="1.0"/>
<line x1="986.30" y1="448.30" x2="986.30" y2="473.90" stroke="#e6472b" stroke-width="3.0"/>
<line x1="979.80" y1="448.30" x2="992.80" y2="448.30" stroke="#e6472b" stroke-width="3.0"/>
<circle cx="986.3" cy="473.9" r="7.0" fill="#e6472b" stroke="#8a2a17" stroke-width="1.0"/>
<line x1="1002.60" y1="437.60" x2="1002.60" y2="456.80" stroke="#e6472b" stroke-width="3.0"/>
<line x1="996.10" y1="437.60" x2="1009.10" y2="437.60" stroke="#e6472b" stroke-width="3.0"/>
<line x1="1002.60" y1="456.80" x2="1002.60" y2="473.20" stroke="#e6472b" stroke-width="3.0"/>
<line x1="996.10" y1="473.20" x2="1009.10" y2="473.20" stroke="#e6472b" stroke-width="3.0"/>
<circle cx="1002.6" cy="456.8" r="7.0" fill="#e6472b" stroke="#8a2a17" stroke-width="1.0"/>
<line x1="1009.70" y1="437.60" x2="1009.70" y2="463.20" stroke="#e6472b" stroke-width="3.0"/>
<line x1="1003.20" y1="437.60" x2="1016.20" y2="437.60" stroke="#e6472b" stroke-width="3.0"/>
<line x1="1009.70" y1="463.20" x2="1009.70" y2="473.20" stroke="#e6472b" stroke-width="3.0"/>
<line x1="1003.20" y1="473.20" x2="1016.20" y2="473.20" stroke="#e6472b" stroke-width="3.0"/>
<circle cx="1009.7" cy="463.2" r="7.0" fill="#e6472b" stroke="#8a2a17" stroke-width="1.0"/>
<line x1="1081.60" y1="408.30" x2="1081.60" y2="431.20" stroke="#e6472b" stroke-width="3.0"/>
<line x1="1075.10" y1="408.30" x2="1088.10" y2="408.30" stroke="#e6472b" stroke-width="3.0"/>
<line x1="1081.60" y1="431.20" x2="1081.60" y2="454.10" stroke="#e6472b" stroke-width="3.0"/>
<line x1="1075.10" y1="454.10" x2="1088.10" y2="454.10" stroke="#e6472b" stroke-width="3.0"/>
<circle cx="1081.6" cy="431.2" r="7.0" fill="#e6472b" stroke="#8a2a17" stroke-width="1.0"/>
<line x1="1139.20" y1="418.10" x2="1139.20" y2="430.10" stroke="#e6472b" stroke-width="3.0"/>
<line x1="1132.70" y1="418.10" x2="1145.70" y2="418.10" stroke="#e6472b" stroke-width="3.0"/>
<line x1="1139.20" y1="430.10" x2="1139.20" y2="444.00" stroke="#e6472b" stroke-width="3.0"/>
<line x1="1132.70" y1="444.00" x2="1145.70" y2="444.00" stroke="#e6472b" stroke-width="3.0"/>
<circle cx="1139.2" cy="430.1" r="7.0" fill="#e6472b" stroke="#8a2a17" stroke-width="1.0"/>
<circle cx="1162.7" cy="439.5" r="7.0" fill="#e6472b" stroke="#8a2a17" stroke-width="1.0"/>
<circle cx="1183.7" cy="412.2" r="7.0" fill="#e6472b" stroke="#8a2a17" stroke-width="1.0"/>
<circle cx="1292.1" cy="392.2" r="7.0" fill="#e6472b" stroke="#8a2a17" stroke-width="1.0"/>
<circle cx="1315.5" cy="370.7" r="7.0" fill="#e6472b" stroke="#8a2a17" stroke-width="1.0"/>
<line x1="1361.90" y1="326.00" x2="1361.90" y2="333.80" stroke="#e6472b" stroke-width="3.0"/>
<line x1="1355.40" y1="326.00" x2="1368.40" y2="326.00" stroke="#e6472b" stroke-width="3.0"/>
<line x1="1361.90" y1="333.80" x2="1361.90" y2="342.00" stroke="#e6472b" stroke-width="3.0"/>
<line x1="1355.40" y1="342.00" x2="1368.40" y2="342.00" stroke="#e6472b" stroke-width="3.0"/>
<circle cx="1361.9" cy="333.8" r="7.0" fill="#e6472b" stroke="#8a2a17" stroke-width="1.0"/>
<line x1="1407.80" y1="261.80" x2="1407.80" y2="282.50" stroke="#e6472b" stroke-width="3.0"/>
<line x1="1401.30" y1="261.80" x2="1414.30" y2="261.80" stroke="#e6472b" stroke-width="3.0"/>
<line x1="1407.80" y1="282.50" x2="1407.80" y2="303.60" stroke="#e6472b" stroke-width="3.0"/>
<line x1="1401.30" y1="303.60" x2="1414.30" y2="303.60" stroke="#e6472b" stroke-width="3.0"/>
<circle cx="1407.8" cy="282.5" r="7.0" fill="#e6472b" stroke="#8a2a17" stroke-width="1.0"/>
<line x1="1445.30" y1="224.60" x2="1445.30" y2="254.40" stroke="#e6472b" stroke-width="3.0"/>
<line x1="1438.80" y1="224.60" x2="1451.80" y2="224.60" stroke="#e6472b" stroke-width="3.0"/>
<line x1="1445.30" y1="254.40" x2="1445.30" y2="284.30" stroke="#e6472b" stroke-width="3.0"/>
<line x1="1438.80" y1="284.30" x2="1451.80" y2="284.30" stroke="#e6472b" stroke-width="3.0"/>
<circle cx="1445.3" cy="254.4" r="7.0" fill="#e6472b" stroke="#8a2a17" stroke-width="1.0"/>
<line x1="1469.20" y1="197.50" x2="1469.20" y2="230.10" stroke="#e6472b" stroke-width="3.0"/>
<line x1="1462.70" y1="197.50" x2="1475.70" y2="197.50" stroke="#e6472b" stroke-width="3.0"/>
<line x1="1469.20" y1="230.10" x2="1469.20" y2="261.00" stroke="#e6472b" stroke-width="3.0"/>
<line x1="1462.70" y1="261.00" x2="1475.70" y2="261.00" stroke="#e6472b" stroke-width="3.0"/>
<circle cx="1469.2" cy="230.1" r="7.0" fill="#e6472b" stroke="#8a2a17" stroke-width="1.0"/>
<line x1="1055.50" y1="436.50" x2="1055.50" y2="444.70" stroke="#e6472b" stroke-width="3.0"/>
<line x1="1049.00" y1="436.50" x2="1062.00" y2="436.50" stroke="#e6472b" stroke-width="3.0"/>
<line x1="1055.50" y1="460.10" x2="1055.50" y2="465.70" stroke="#e6472b" stroke-width="3.0"/>
<line x1="1049.00" y1="465.70" x2="1062.00" y2="465.70" stroke="#e6472b" stroke-width="3.0"/>
<circle cx="1055.5" cy="452.4" r="6.6" fill="none" stroke="#e6472b" stroke-width="3.2"/>
<line x1="1081.60" y1="438.30" x2="1081.60" y2="438.60" stroke="#e6472b" stroke-width="3.0"/>
<line x1="1075.10" y1="438.30" x2="1088.10" y2="438.30" stroke="#e6472b" stroke-width="3.0"/>
<line x1="1081.60" y1="454.00" x2="1081.60" y2="454.20" stroke="#e6472b" stroke-width="3.0"/>
<line x1="1075.10" y1="454.20" x2="1088.10" y2="454.20" stroke="#e6472b" stroke-width="3.0"/>
<circle cx="1081.6" cy="446.3" r="6.6" fill="none" stroke="#e6472b" stroke-width="3.2"/>
<circle cx="1163" cy="400.8" r="6.6" fill="none" stroke="#e6472b" stroke-width="3.2"/>
<line x1="1183.70" y1="382.00" x2="1183.70" y2="383.40" stroke="#e6472b" stroke-width="3.0"/>
<line x1="1177.20" y1="382.00" x2="1190.20" y2="382.00" stroke="#e6472b" stroke-width="3.0"/>
<line x1="1183.70" y1="398.80" x2="1183.70" y2="401.50" stroke="#e6472b" stroke-width="3.0"/>
<line x1="1177.20" y1="401.50" x2="1190.20" y2="401.50" stroke="#e6472b" stroke-width="3.0"/>
<circle cx="1183.7" cy="391.1" r="6.6" fill="none" stroke="#e6472b" stroke-width="3.2"/>
<circle cx="1270" cy="319" r="6.6" fill="none" stroke="#e6472b" stroke-width="3.2"/>
<circle cx="1291.7" cy="314" r="6.6" fill="none" stroke="#e6472b" stroke-width="3.2"/>
<circle cx="1315.5" cy="253.7" r="6.6" fill="none" stroke="#e6472b" stroke-width="3.2"/>
<line x1="1361.90" y1="223.50" x2="1361.90" y2="227.00" stroke="#e6472b" stroke-width="3.0"/>
<line x1="1355.40" y1="223.50" x2="1368.40" y2="223.50" stroke="#e6472b" stroke-width="3.0"/>
<line x1="1361.90" y1="242.40" x2="1361.90" y2="246.00" stroke="#e6472b" stroke-width="3.0"/>
<line x1="1355.40" y1="246.00" x2="1368.40" y2="246.00" stroke="#e6472b" stroke-width="3.0"/>
<circle cx="1361.9" cy="234.7" r="6.6" fill="none" stroke="#e6472b" stroke-width="3.2"/>
<line x1="1407.80" y1="204.50" x2="1407.80" y2="213.10" stroke="#e6472b" stroke-width="3.0"/>
<line x1="1401.30" y1="204.50" x2="1414.30" y2="204.50" stroke="#e6472b" stroke-width="3.0"/>
<line x1="1407.80" y1="228.50" x2="1407.80" y2="237.00" stroke="#e6472b" stroke-width="3.0"/>
<line x1="1401.30" y1="237.00" x2="1414.30" y2="237.00" stroke="#e6472b" stroke-width="3.0"/>
<circle cx="1407.8" cy="220.8" r="6.6" fill="none" stroke="#e6472b" stroke-width="3.2"/>
<line x1="1445.30" y1="201.00" x2="1445.30" y2="200.50" stroke="#e6472b" stroke-width="3.0"/>
<line x1="1438.80" y1="201.00" x2="1451.80" y2="201.00" stroke="#e6472b" stroke-width="3.0"/>
<line x1="1445.30" y1="215.90" x2="1445.30" y2="216.00" stroke="#e6472b" stroke-width="3.0"/>
<line x1="1438.80" y1="216.00" x2="1451.80" y2="216.00" stroke="#e6472b" stroke-width="3.0"/>
<circle cx="1445.3" cy="208.2" r="6.6" fill="none" stroke="#e6472b" stroke-width="3.2"/>
<circle cx="1469.2" cy="194.8" r="6.6" fill="none" stroke="#e6472b" stroke-width="3.2"/>
<circle cx="1001.2" cy="475.3" r="6.6" fill="none" stroke="#000" stroke-width="3.2"/>
<line x1="1055.50" y1="418.90" x2="1055.50" y2="423.50" stroke="#000" stroke-width="3.0"/>
<line x1="1049.00" y1="418.90" x2="1062.00" y2="418.90" stroke="#000" stroke-width="3.0"/>
<line x1="1055.50" y1="438.90" x2="1055.50" y2="443.30" stroke="#000" stroke-width="3.0"/>
<line x1="1049.00" y1="443.30" x2="1062.00" y2="443.30" stroke="#000" stroke-width="3.0"/>
<circle cx="1055.5" cy="431.2" r="6.6" fill="none" stroke="#000" stroke-width="3.2"/>
<line x1="1081.60" y1="394.10" x2="1081.60" y2="395.30" stroke="#000" stroke-width="3.0"/>
<line x1="1075.10" y1="394.10" x2="1088.10" y2="394.10" stroke="#000" stroke-width="3.0"/>
<line x1="1081.60" y1="410.70" x2="1081.60" y2="412.70" stroke="#000" stroke-width="3.0"/>
<line x1="1075.10" y1="412.70" x2="1088.10" y2="412.70" stroke="#000" stroke-width="3.0"/>
<circle cx="1081.6" cy="403" r="6.6" fill="none" stroke="#000" stroke-width="3.2"/>
<line x1="1139.00" y1="308.50" x2="1139.00" y2="316.70" stroke="#000" stroke-width="3.0"/>
<line x1="1132.50" y1="308.50" x2="1145.50" y2="308.50" stroke="#000" stroke-width="3.0"/>
<line x1="1139.00" y1="332.10" x2="1139.00" y2="338.20" stroke="#000" stroke-width="3.0"/>
<line x1="1132.50" y1="338.20" x2="1145.50" y2="338.20" stroke="#000" stroke-width="3.0"/>
<circle cx="1139" cy="324.4" r="6.6" fill="none" stroke="#000" stroke-width="3.2"/>
<line x1="1162.90" y1="320.70" x2="1162.90" y2="327.10" stroke="#000" stroke-width="3.0"/>
<line x1="1156.40" y1="327.10" x2="1169.40" y2="327.10" stroke="#000" stroke-width="3.0"/>
<circle cx="1162.9" cy="313" r="6.6" fill="none" stroke="#000" stroke-width="3.2"/>
<line x1="1183.70" y1="262.50" x2="1183.70" y2="271.20" stroke="#000" stroke-width="3.0"/>
<line x1="1177.20" y1="262.50" x2="1190.20" y2="262.50" stroke="#000" stroke-width="3.0"/>
<line x1="1183.70" y1="286.60" x2="1183.70" y2="296.20" stroke="#000" stroke-width="3.0"/>
<line x1="1177.20" y1="296.20" x2="1190.20" y2="296.20" stroke="#000" stroke-width="3.0"/>
<circle cx="1183.7" cy="278.9" r="6.6" fill="none" stroke="#000" stroke-width="3.2"/>
<circle cx="1270" cy="228.5" r="6.6" fill="none" stroke="#000" stroke-width="3.2"/>
<line x1="1291.70" y1="183.40" x2="1291.70" y2="202.70" stroke="#000" stroke-width="3.0"/>
<line x1="1285.20" y1="183.40" x2="1298.20" y2="183.40" stroke="#000" stroke-width="3.0"/>
<line x1="1291.70" y1="218.10" x2="1291.70" y2="237.40" stroke="#000" stroke-width="3.0"/>
<line x1="1285.20" y1="237.40" x2="1298.20" y2="237.40" stroke="#000" stroke-width="3.0"/>
<circle cx="1291.7" cy="210.4" r="6.6" fill="none" stroke="#000" stroke-width="3.2"/>
<line x1="1315.50" y1="188.40" x2="1315.50" y2="195.50" stroke="#000" stroke-width="3.0"/>
<line x1="1309.00" y1="188.40" x2="1322.00" y2="188.40" stroke="#000" stroke-width="3.0"/>
<line x1="1315.50" y1="210.90" x2="1315.50" y2="218.10" stroke="#000" stroke-width="3.0"/>
<line x1="1309.00" y1="218.10" x2="1322.00" y2="218.10" stroke="#000" stroke-width="3.0"/>
<circle cx="1315.5" cy="203.2" r="6.6" fill="none" stroke="#000" stroke-width="3.2"/>
<line x1="1361.90" y1="164.50" x2="1361.90" y2="165.80" stroke="#000" stroke-width="3.0"/>
<line x1="1355.40" y1="164.50" x2="1368.40" y2="164.50" stroke="#000" stroke-width="3.0"/>
<circle cx="1361.9" cy="173.5" r="6.6" fill="none" stroke="#000" stroke-width="3.2"/>
<line x1="1407.80" y1="143.40" x2="1407.80" y2="156.80" stroke="#000" stroke-width="3.0"/>
<line x1="1401.30" y1="143.40" x2="1414.30" y2="143.40" stroke="#000" stroke-width="3.0"/>
<line x1="1407.80" y1="172.20" x2="1407.80" y2="183.80" stroke="#000" stroke-width="3.0"/>
<line x1="1401.30" y1="183.80" x2="1414.30" y2="183.80" stroke="#000" stroke-width="3.0"/>
<circle cx="1407.8" cy="164.5" r="6.6" fill="none" stroke="#000" stroke-width="3.2"/>
<line x1="1445.40" y1="157.80" x2="1445.40" y2="161.40" stroke="#000" stroke-width="3.0"/>
<line x1="1438.90" y1="161.40" x2="1451.90" y2="161.40" stroke="#000" stroke-width="3.0"/>
<circle cx="1445.4" cy="150.1" r="6.6" fill="none" stroke="#000" stroke-width="3.2"/>
<circle cx="1469" cy="157.7" r="6.6" fill="none" stroke="#000" stroke-width="3.2"/>
<circle cx="975.7" cy="472.4" r="7.0" fill="#000"/>
<line x1="985.60" y1="422.00" x2="985.60" y2="459.70" stroke="#000" stroke-width="3.0"/>
<line x1="979.10" y1="422.00" x2="992.10" y2="422.00" stroke="#000" stroke-width="3.0"/>
<circle cx="985.6" cy="459.7" r="7.0" fill="#000"/>
<line x1="1002.20" y1="413.50" x2="1002.20" y2="436.60" stroke="#000" stroke-width="3.0"/>
<line x1="995.70" y1="413.50" x2="1008.70" y2="413.50" stroke="#000" stroke-width="3.0"/>
<line x1="1002.20" y1="436.60" x2="1002.20" y2="461.10" stroke="#000" stroke-width="3.0"/>
<line x1="995.70" y1="461.10" x2="1008.70" y2="461.10" stroke="#000" stroke-width="3.0"/>
<circle cx="1002.2" cy="436.6" r="7.0" fill="#000"/>
<line x1="1009.70" y1="383.50" x2="1009.70" y2="399.00" stroke="#000" stroke-width="3.0"/>
<line x1="1003.20" y1="383.50" x2="1016.20" y2="383.50" stroke="#000" stroke-width="3.0"/>
<line x1="1009.70" y1="399.00" x2="1009.70" y2="413.20" stroke="#000" stroke-width="3.0"/>
<line x1="1003.20" y1="413.20" x2="1016.20" y2="413.20" stroke="#000" stroke-width="3.0"/>
<circle cx="1009.7" cy="399" r="7.0" fill="#000"/>
<line x1="1055.50" y1="359.40" x2="1055.50" y2="389.20" stroke="#000" stroke-width="3.0"/>
<line x1="1049.00" y1="359.40" x2="1062.00" y2="359.40" stroke="#000" stroke-width="3.0"/>
<line x1="1055.50" y1="389.20" x2="1055.50" y2="418.90" stroke="#000" stroke-width="3.0"/>
<line x1="1049.00" y1="418.90" x2="1062.00" y2="418.90" stroke="#000" stroke-width="3.0"/>
<circle cx="1055.5" cy="389.2" r="7.0" fill="#000"/>
<line x1="1081.60" y1="362.40" x2="1081.60" y2="379.60" stroke="#000" stroke-width="3.0"/>
<line x1="1075.10" y1="362.40" x2="1088.10" y2="362.40" stroke="#000" stroke-width="3.0"/>
<line x1="1081.60" y1="379.60" x2="1081.60" y2="394.00" stroke="#000" stroke-width="3.0"/>
<line x1="1075.10" y1="394.00" x2="1088.10" y2="394.00" stroke="#000" stroke-width="3.0"/>
<circle cx="1081.6" cy="379.6" r="7.0" fill="#000"/>
<line x1="1139.00" y1="270.00" x2="1139.00" y2="289.50" stroke="#000" stroke-width="3.0"/>
<line x1="1132.50" y1="270.00" x2="1145.50" y2="270.00" stroke="#000" stroke-width="3.0"/>
<line x1="1139.00" y1="289.50" x2="1139.00" y2="308.00" stroke="#000" stroke-width="3.0"/>
<line x1="1132.50" y1="308.00" x2="1145.50" y2="308.00" stroke="#000" stroke-width="3.0"/>
<circle cx="1139" cy="289.5" r="7.0" fill="#000"/>
<line x1="1162.90" y1="217.40" x2="1162.90" y2="237.40" stroke="#000" stroke-width="3.0"/>
<line x1="1156.40" y1="217.40" x2="1169.40" y2="217.40" stroke="#000" stroke-width="3.0"/>
<line x1="1162.90" y1="237.40" x2="1162.90" y2="257.30" stroke="#000" stroke-width="3.0"/>
<line x1="1156.40" y1="257.30" x2="1169.40" y2="257.30" stroke="#000" stroke-width="3.0"/>
<circle cx="1162.9" cy="237.4" r="7.0" fill="#000"/>
<circle cx="1183.7" cy="216.7" r="7.0" fill="#000"/>
<line x1="1270.00" y1="162.20" x2="1270.00" y2="182.50" stroke="#000" stroke-width="3.0"/>
<line x1="1263.50" y1="162.20" x2="1276.50" y2="162.20" stroke="#000" stroke-width="3.0"/>
<line x1="1270.00" y1="182.50" x2="1270.00" y2="203.20" stroke="#000" stroke-width="3.0"/>
<line x1="1263.50" y1="203.20" x2="1276.50" y2="203.20" stroke="#000" stroke-width="3.0"/>
<circle cx="1270" cy="182.5" r="7.0" fill="#000"/>
<circle cx="1291.7" cy="190.6" r="7.0" fill="#000"/>
<line x1="1361.90" y1="169.40" x2="1361.90" y2="187.90" stroke="#000" stroke-width="3.0"/>
<line x1="1355.40" y1="169.40" x2="1368.40" y2="169.40" stroke="#000" stroke-width="3.0"/>
<line x1="1361.90" y1="187.90" x2="1361.90" y2="206.40" stroke="#000" stroke-width="3.0"/>
<line x1="1355.40" y1="206.40" x2="1368.40" y2="206.40" stroke="#000" stroke-width="3.0"/>
<circle cx="1361.9" cy="187.9" r="7.0" fill="#000"/>
<line x1="1407.80" y1="131.60" x2="1407.80" y2="156.40" stroke="#000" stroke-width="3.0"/>
<line x1="1401.30" y1="131.60" x2="1414.30" y2="131.60" stroke="#000" stroke-width="3.0"/>
<line x1="1407.80" y1="156.40" x2="1407.80" y2="181.20" stroke="#000" stroke-width="3.0"/>
<line x1="1401.30" y1="181.20" x2="1414.30" y2="181.20" stroke="#000" stroke-width="3.0"/>
<circle cx="1407.8" cy="156.4" r="7.0" fill="#000"/>
<line x1="1445.40" y1="127.60" x2="1445.40" y2="135.70" stroke="#000" stroke-width="3.0"/>
<line x1="1438.90" y1="127.60" x2="1451.90" y2="127.60" stroke="#000" stroke-width="3.0"/>
<circle cx="1445.4" cy="135.7" r="7.0" fill="#000"/>
<line x1="1469.00" y1="125.00" x2="1469.00" y2="141.10" stroke="#000" stroke-width="3.0"/>
<line x1="1469.00" y1="141.10" x2="1469.00" y2="155.60" stroke="#000" stroke-width="3.0"/>
<line x1="1462.50" y1="155.60" x2="1475.50" y2="155.60" stroke="#000" stroke-width="3.0"/>
<circle cx="1469" cy="141.1" r="7.0" fill="#000"/>
<text x="909.36" y="172.4" font-size="40" fill="#111" transform="translate(0,172.4) scale(1,1.035) translate(0,-172.4)"><tspan fill-opacity='0'>1</tspan>.0</text>
<path d="M515,0 L696,0 L696,1409 L560,1409 Q470,1200 150,1053 L150,900 Q370,985 515,1110 Z" fill="#111" transform="translate(909.36,172.4) scale(0.019531,-0.020215)"/>
<text x="909.67" y="330.2" font-size="40" fill="#111" transform="translate(0,330.2) scale(1,1.035) translate(0,-330.2)">0.5</text>
<text x="909.66" y="487.0" font-size="40" fill="#111" transform="translate(0,487.0) scale(1,1.035) translate(0,-487.0)">0.0</text>
<text x="971.17" y="520.8" font-size="40" fill="#111" transform="translate(0,520.8) scale(1,1.035) translate(0,-520.8)">0.0<tspan fill-opacity='0'>1</tspan></text>
<path d="M515,0 L696,0 L696,1409 L560,1409 Q470,1200 150,1053 L150,900 Q370,985 515,1110 Z" fill="#111" transform="translate(1026.77,520.8) scale(0.019531,-0.020215)"/>
<text x="1133.54" y="520.8" font-size="40" fill="#111" transform="translate(0,520.8) scale(1,1.035) translate(0,-520.8)">0.<tspan fill-opacity='0'>1</tspan></text>
<path d="M515,0 L696,0 L696,1409 L560,1409 Q470,1200 150,1053 L150,900 Q370,985 515,1110 Z" fill="#111" transform="translate(1166.90,520.8) scale(0.019531,-0.020215)"/>
<text x="1305.54" y="520.8" font-size="40" fill="#111" transform="translate(0,520.8) scale(1,1.035) translate(0,-520.8)"><tspan fill-opacity='0'>1</tspan></text>
<path d="M515,0 L696,0 L696,1409 L560,1409 Q470,1200 150,1053 L150,900 Q370,985 515,1110 Z" fill="#111" transform="translate(1305.54,520.8) scale(0.019531,-0.020215)"/>
<text x="1445.02" y="520.8" font-size="40" fill="#111" transform="translate(0,520.8) scale(1,1.035) translate(0,-520.8)"><tspan fill-opacity='0'>1</tspan>0</text>
<path d="M515,0 L696,0 L696,1409 L560,1409 Q470,1200 150,1053 L150,900 Q370,985 515,1110 Z" fill="#111" transform="translate(1445.02,520.8) scale(0.019531,-0.020215)"/>
<text x="1238.5" y="565" font-size="40" text-anchor="middle" font-weight="normal" fill="#111" transform="translate(1238.5,565) scale(1,1.035) translate(-1238.5,-565)" >Time, s</text>
<text x="891.6" y="301" font-size="40" text-anchor="middle" font-weight="normal" fill="#111" transform="rotate(-90 891.6 301) translate(891.6,301) scale(1,1.035) translate(-891.6,-301)" >MK or MT, fraction</text>
<circle cx="1010.4" cy="149.8" r="7.5" fill="#151515"/>
<circle cx="1010.4" cy="191.3" r="6.5" fill="none" stroke="#151515" stroke-width="2"/>
<text x="1025.5" y="163.8" font-size="40" text-anchor="start" font-weight="normal" fill="#111" transform="translate(1025.5,163.8) scale(1,1.035) translate(-1025.5,-163.8)" >AAA</text>
<text x="1025" y="204.2" font-size="40" text-anchor="start" font-weight="normal" fill="#111" transform="translate(1025,204.2) scale(1,1.035) translate(-1025,-204.2)" >ACC</text>
<circle cx="1339" cy="393.6" r="7.5" fill="#e6472b"/>
<circle cx="1339" cy="433.6" r="6.5" fill="none" stroke="#e6472b" stroke-width="2"/>
<text x="1357.5" y="407.4" font-size="40" text-anchor="start" font-weight="normal" fill="#111" transform="translate(1357.5,407.4) scale(1,1.035) translate(-1357.5,-407.4)" >m<tspan font-size='24' dx='1' dy='-13'>6</tspan><tspan dx='-1' dy='13'>AAA</tspan></text>
<text x="1357.5" y="450.2" font-size="40" text-anchor="start" font-weight="normal" fill="#111" transform="translate(1357.5,450.2) scale(1,1.035) translate(-1357.5,-450.2)" >m<tspan font-size='24' dx='1' dy='-13'>6</tspan><tspan dx='-1' dy='13'>ACC</tspan></text>
</svg></body></html>
